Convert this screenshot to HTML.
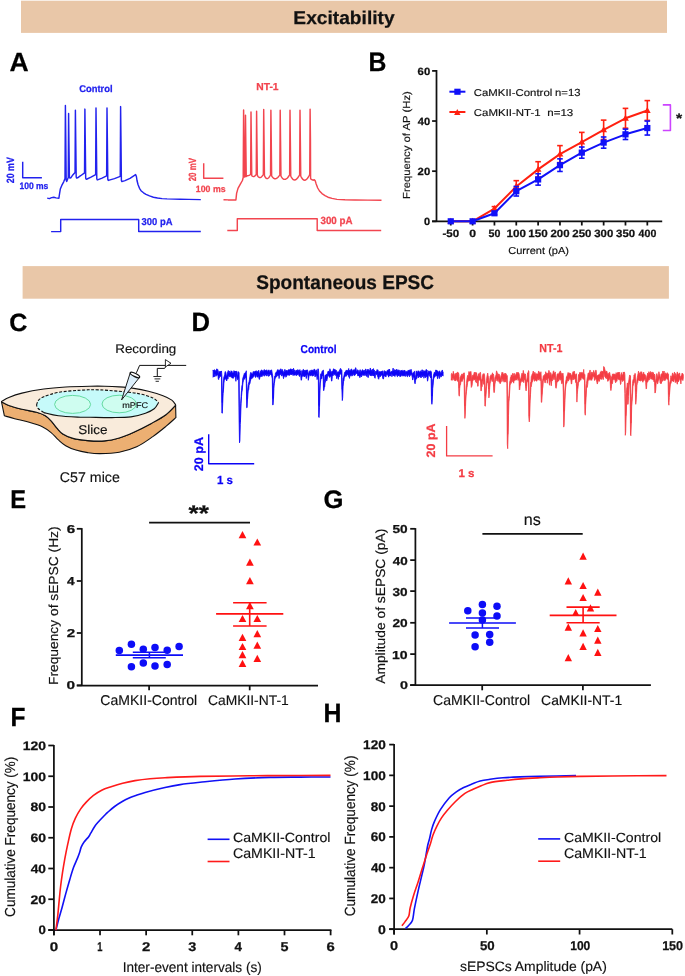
<!DOCTYPE html>
<html><head><meta charset="utf-8"><style>
html,body{margin:0;padding:0;background:#fff;}
body{width:685px;height:976px;overflow:hidden;}
svg{display:block;font-family:"Liberation Sans",sans-serif;text-rendering:geometricPrecision;will-change:transform;}
</style></head><body>
<svg width="685" height="976" viewBox="0 0 685 976">
<rect width="685" height="976" fill="#fff"/>
<rect x="21" y="0.7" width="646" height="32.2" fill="#E9C7A8"/>
<text x="293.35" y="23.6" font-size="18.48" fill="#111" font-weight="bold" textLength="101.24" lengthAdjust="spacingAndGlyphs" stroke="#111" stroke-width="0.25">Excitability</text>
<rect x="22.6" y="266.1" width="646.3" height="32.6" fill="#E9C7A8"/>
<text x="256.23" y="289.2" font-size="19.71" fill="#111" font-weight="bold" textLength="177.84" lengthAdjust="spacingAndGlyphs" stroke="#111" stroke-width="0.25">Spontaneous EPSC</text>
<text x="9.54" y="71.2" font-size="26.23" fill="#000" font-weight="bold" textLength="19.19" lengthAdjust="spacingAndGlyphs" stroke="#000" stroke-width="0.25">A</text>
<text x="368.39" y="70.7" font-size="26.81" fill="#000" font-weight="bold" textLength="17.88" lengthAdjust="spacingAndGlyphs" stroke="#000" stroke-width="0.25">B</text>
<text x="9.3" y="330.7" font-size="25" fill="#000" font-weight="bold" textLength="18.08" lengthAdjust="spacingAndGlyphs" stroke="#000" stroke-width="0.25">C</text>
<text x="191.43" y="331.2" font-size="26.38" fill="#000" font-weight="bold" textLength="18.55" lengthAdjust="spacingAndGlyphs" stroke="#000" stroke-width="0.25">D</text>
<text x="10.26" y="507.7" font-size="25.65" fill="#000" font-weight="bold" textLength="15.82" lengthAdjust="spacingAndGlyphs" stroke="#000" stroke-width="0.25">E</text>
<text x="323.57" y="508" font-size="25.29" fill="#000" font-weight="bold" textLength="19.94" lengthAdjust="spacingAndGlyphs" stroke="#000" stroke-width="0.25">G</text>
<text x="10.41" y="726" font-size="26.23" fill="#000" font-weight="bold" textLength="14.97" lengthAdjust="spacingAndGlyphs" stroke="#000" stroke-width="0.25">F</text>
<text x="323.58" y="721.7" font-size="26.38" fill="#000" font-weight="bold" textLength="17.99" lengthAdjust="spacingAndGlyphs" stroke="#000" stroke-width="0.25">H</text>
<text x="79.22" y="91.5" font-size="9.79" fill="#2222EE" font-weight="bold" textLength="33.33" lengthAdjust="spacingAndGlyphs" stroke="#2222EE" stroke-width="0.25">Control</text>
<text x="256.23" y="90" font-size="10.14" fill="#F2454F" font-weight="bold" textLength="22.35" lengthAdjust="spacingAndGlyphs" stroke="#F2454F" stroke-width="0.25">NT-1</text>
<polyline points="47.2,198.1 49.4,198.6 51.6,197.6 53.8,197.2 56,197.9 58.9,198.2 59.6,193.4 60.3,189.1 61.8,185.4 63.7,181.8 65,178.6 65.4,105.5 65.75,135.5 66.2,180.3 66.7,181.5 68.25,177.5 68.6,113.4 68.95,143.4 69.4,176.9 69.9,178.1 70.8,177.8 72.34,175.58 75.05,172.5 75.4,110.2 75.75,140.2 76.2,176.9 76.7,178.1 77.6,177.8 80.62,175.72 84.55,172.8 84.9,109.1 85.25,139.1 85.7,178.1 86.2,179.3 87.1,179 91.01,177.19 95.65,174.6 96,108 96.35,138 96.8,178.7 97.3,179.9 98.2,179.6 102.05,178.06 106.65,175.8 107,108 107.35,138 107.8,179.2 108.3,180.4 109.2,180.1 114.48,178.6 120.25,176.4 120.6,106.6 120.95,136.6 121.4,180.4 121.9,181.6 125,180.6 130,178.3 135.6,174.6 136.4,176.5 137,180.5 138,184.5 139.5,188.3 141,190.7 143.5,192.8 146,194.3 149.5,195.9 153.4,197.2 157.5,198 162.1,198.6 167,198.9 173.8,199.1 180,199.2 188.4,199.4 200.8,199.6" fill="none" stroke="#2222EE" stroke-width="1.45" stroke-linejoin="round" stroke-linecap="butt" />
<polyline points="51.1,231.6 60.7,231.6 60.7,219.5 138.7,219.5 138.7,231.4 200.8,231.4" fill="none" stroke="#2222EE" stroke-width="1.45" stroke-linejoin="round" stroke-linecap="butt" />
<text x="141.56" y="225.3" font-size="10" fill="#2222EE" font-weight="bold" textLength="30.91" lengthAdjust="spacingAndGlyphs" stroke="#2222EE" stroke-width="0.25">300 pA</text>
<polyline points="22.7,161.8 22.7,177.8 41.9,177.8" fill="none" stroke="#2222EE" stroke-width="1.45" stroke-linejoin="round" stroke-linecap="butt" />
<text x="0" y="0" font-size="10.57" fill="#2222EE" font-weight="bold" textLength="26.07" lengthAdjust="spacingAndGlyphs" transform="translate(14.3 183.21) rotate(-90)" stroke="#2222EE" stroke-width="0.25">20 mV</text>
<text x="19.39" y="189" font-size="9.29" fill="#2222EE" font-weight="bold" textLength="28.97" lengthAdjust="spacingAndGlyphs" stroke="#2222EE" stroke-width="0.25">100 ms</text>
<polyline points="223.5,199.8 228,199.9 232,199.9 235.9,200 236.6,193.4 238,188.4 240.2,184.4 242.4,180.5 243.2,177.5 243.6,109.9 243.95,139.9 244.35,176.8 244.8,177.1 245.15,176.5 245.5,115.3 245.85,145.3 246.25,176.5 246.51,176.26 246.87,176 247.31,175.77 247.75,175.63 248.19,175.6 248.63,175.54 249.07,175.4 249.51,175.17 249.9,174.9 250.25,174.6 250.52,174.34 250.65,174.2 251,112 251.35,142 251.75,175.6 252.02,175.87 252.38,176.16 252.83,176.42 253.28,176.56 253.73,176.6 254.18,176.49 254.63,176.23 255.08,175.81 255.49,175.3 255.84,174.74 256.12,174.26 256.25,174 256.6,111.2 256.95,141.2 257.35,175.5 257.71,176.06 258.19,176.67 258.79,177.21 259.39,177.52 259.99,177.6 260.59,177.45 261.19,177.11 261.79,176.57 262.33,175.9 262.81,175.17 263.17,174.54 263.35,174.2 263.7,109.5 264.05,139.5 264.45,175.6 264.82,176.4 265.3,177.27 265.91,178.05 266.52,178.49 267.13,178.6 267.74,178.43 268.35,178.02 268.96,177.38 269.51,176.6 270,175.75 270.37,175 270.55,174.6 270.9,110.2 271.25,140.2 271.65,175.9 272.14,176.67 272.8,177.51 273.62,178.27 274.44,178.69 275.26,178.8 276.08,178.62 276.9,178.2 277.72,177.52 278.46,176.7 279.11,175.8 279.6,175.02 279.85,174.6 280.2,110.2 280.55,140.2 280.95,176 281.47,176.9 282.17,177.89 283.04,178.78 283.91,179.28 284.78,179.39 285.65,179.19 286.52,178.71 287.39,177.94 288.17,177 288.87,175.97 289.39,175.08 289.65,174.6 290,110.2 290.35,140.2 290.75,176 291.28,177.06 292,178.22 292.89,179.27 293.78,179.85 294.67,179.99 295.56,179.76 296.45,179.21 297.34,178.33 298.14,177.25 298.85,176.07 299.38,175.05 299.65,174.5 300,110.2 300.35,140.2 300.75,176 301.29,177.11 302.01,178.33 302.91,179.43 303.81,180.05 304.71,180.19 305.61,179.95 306.51,179.35 307.41,178.4 308.22,177.25 308.94,175.99 309.48,174.89 309.75,174.3 310.1,109.2 310.45,139.2 310.6,178.5 311.2,179.3 313,180.2 314.3,179.8 315.2,180.8 316,183.4 317.7,188 319.5,191 322,193.6 325,195.6 328,197.2 332,198.4 337,199.4 345,199.8 355,200 368,200.1 381.5,200.2" fill="none" stroke="#F2454F" stroke-width="1.45" stroke-linejoin="round" stroke-linecap="butt" />
<polyline points="227.3,230.5 237.3,230.5 237.3,218.8 317.2,218.8 317.2,230.5 381.2,230.5" fill="none" stroke="#F2454F" stroke-width="1.45" stroke-linejoin="round" stroke-linecap="butt" />
<text x="320.46" y="224.4" font-size="10.43" fill="#F2454F" font-weight="bold" textLength="32.13" lengthAdjust="spacingAndGlyphs" stroke="#F2454F" stroke-width="0.25">300 pA</text>
<polyline points="203.7,163.2 203.7,178.3 223.4,178.3" fill="none" stroke="#F2454F" stroke-width="1.45" stroke-linejoin="round" stroke-linecap="butt" />
<text x="0" y="0" font-size="10.43" fill="#F2454F" font-weight="bold" textLength="23.33" lengthAdjust="spacingAndGlyphs" transform="translate(196.4 181.28) rotate(-90)" stroke="#F2454F" stroke-width="0.25">20 mV</text>
<text x="195.87" y="192" font-size="9.14" fill="#F2454F" font-weight="bold" textLength="29.69" lengthAdjust="spacingAndGlyphs" stroke="#F2454F" stroke-width="0.25">100 ms</text>
<line x1="436.5" y1="70" x2="436.5" y2="222" stroke="#111" stroke-width="1.75" />
<line x1="432.1" y1="221.3" x2="662.2" y2="221.3" stroke="#111" stroke-width="1.75" />
<line x1="432.1" y1="70.9" x2="436.5" y2="70.9" stroke="#111" stroke-width="1.75" />
<text x="417.6" y="74.9" font-size="10.43" fill="#111" font-weight="bold" textLength="12.57" lengthAdjust="spacingAndGlyphs" stroke="#111" stroke-width="0.25">60</text>
<line x1="432.1" y1="121.03" x2="436.5" y2="121.03" stroke="#111" stroke-width="1.75" />
<text x="417.83" y="125.03" font-size="10.43" fill="#111" font-weight="bold" textLength="12.34" lengthAdjust="spacingAndGlyphs" stroke="#111" stroke-width="0.25">40</text>
<line x1="432.1" y1="171.17" x2="436.5" y2="171.17" stroke="#111" stroke-width="1.75" />
<text x="417.6" y="175.17" font-size="10.43" fill="#111" font-weight="bold" textLength="12.57" lengthAdjust="spacingAndGlyphs" stroke="#111" stroke-width="0.25">20</text>
<line x1="432.1" y1="221.3" x2="436.5" y2="221.3" stroke="#111" stroke-width="1.75" />
<text x="424.06" y="225.3" font-size="10.43" fill="#111" font-weight="bold" textLength="6.09" lengthAdjust="spacingAndGlyphs" stroke="#111" stroke-width="0.25">0</text>
<line x1="450.76" y1="221.3" x2="450.76" y2="225.5" stroke="#111" stroke-width="1.75" />
<text x="442.4" y="237.1" font-size="10.57" fill="#111" font-weight="bold" textLength="16.73" lengthAdjust="spacingAndGlyphs" stroke="#111" stroke-width="0.25">-50</text>
<line x1="472.6" y1="221.3" x2="472.6" y2="225.5" stroke="#111" stroke-width="1.75" />
<text x="469.21" y="237.1" font-size="10.57" fill="#111" font-weight="bold" textLength="6.79" lengthAdjust="spacingAndGlyphs" stroke="#111" stroke-width="0.25">0</text>
<line x1="494.44" y1="221.3" x2="494.44" y2="225.5" stroke="#111" stroke-width="1.75" />
<text x="488.57" y="237.1" font-size="10.57" fill="#111" font-weight="bold" textLength="11.87" lengthAdjust="spacingAndGlyphs" stroke="#111" stroke-width="0.25">50</text>
<line x1="516.28" y1="221.3" x2="516.28" y2="225.5" stroke="#111" stroke-width="1.75" />
<text x="506.48" y="237.1" font-size="10.57" fill="#111" font-weight="bold" textLength="19.4" lengthAdjust="spacingAndGlyphs" stroke="#111" stroke-width="0.25">100</text>
<line x1="538.12" y1="221.3" x2="538.12" y2="225.5" stroke="#111" stroke-width="1.75" />
<text x="528.32" y="237.1" font-size="10.57" fill="#111" font-weight="bold" textLength="19.4" lengthAdjust="spacingAndGlyphs" stroke="#111" stroke-width="0.25">150</text>
<line x1="559.96" y1="221.3" x2="559.96" y2="225.5" stroke="#111" stroke-width="1.75" />
<text x="550.46" y="237.1" font-size="10.57" fill="#111" font-weight="bold" textLength="19.1" lengthAdjust="spacingAndGlyphs" stroke="#111" stroke-width="0.25">200</text>
<line x1="581.8" y1="221.3" x2="581.8" y2="225.5" stroke="#111" stroke-width="1.75" />
<text x="572.3" y="237.1" font-size="10.57" fill="#111" font-weight="bold" textLength="19.1" lengthAdjust="spacingAndGlyphs" stroke="#111" stroke-width="0.25">250</text>
<line x1="603.64" y1="221.3" x2="603.64" y2="225.5" stroke="#111" stroke-width="1.75" />
<text x="594.26" y="237.1" font-size="10.57" fill="#111" font-weight="bold" textLength="18.98" lengthAdjust="spacingAndGlyphs" stroke="#111" stroke-width="0.25">300</text>
<line x1="625.48" y1="221.3" x2="625.48" y2="225.5" stroke="#111" stroke-width="1.75" />
<text x="616.1" y="237.1" font-size="10.57" fill="#111" font-weight="bold" textLength="18.98" lengthAdjust="spacingAndGlyphs" stroke="#111" stroke-width="0.25">350</text>
<line x1="647.32" y1="221.3" x2="647.32" y2="225.5" stroke="#111" stroke-width="1.75" />
<text x="638.61" y="237.1" font-size="10.57" fill="#111" font-weight="bold" textLength="17.72" lengthAdjust="spacingAndGlyphs" stroke="#111" stroke-width="0.25">400</text>
<text x="0" y="0" font-size="10.21" fill="#111" font-weight="normal" textLength="107.9" lengthAdjust="spacingAndGlyphs" transform="translate(410.4 199) rotate(-90)" stroke="#111" stroke-width="0.15">Frequency of AP (Hz)</text>
<text x="508.25" y="254.1" font-size="10.07" fill="#111" font-weight="normal" textLength="60.73" lengthAdjust="spacingAndGlyphs" stroke="#111" stroke-width="0.15">Current (pA)</text>
<polyline points="450.76,221.3 472.6,221.3 494.44,208.52 516.28,186.46 538.12,169.41 559.96,154.12 581.8,142.09 603.64,129.81 625.48,118.27 647.32,110.5" fill="none" stroke="#FF2010" stroke-width="2" stroke-linejoin="round" stroke-linecap="butt" />
<line x1="494.44" y1="206.62" x2="494.44" y2="210.42" stroke="#FF2010" stroke-width="1.6" />
<line x1="491.64" y1="206.62" x2="497.24" y2="206.62" stroke="#FF2010" stroke-width="1.6" />
<line x1="491.64" y1="210.42" x2="497.24" y2="210.42" stroke="#FF2010" stroke-width="1.6" />
<line x1="516.28" y1="180.66" x2="516.28" y2="192.26" stroke="#FF2010" stroke-width="1.6" />
<line x1="513.48" y1="180.66" x2="519.08" y2="180.66" stroke="#FF2010" stroke-width="1.6" />
<line x1="513.48" y1="192.26" x2="519.08" y2="192.26" stroke="#FF2010" stroke-width="1.6" />
<line x1="538.12" y1="161.71" x2="538.12" y2="177.11" stroke="#FF2010" stroke-width="1.6" />
<line x1="535.32" y1="161.71" x2="540.92" y2="161.71" stroke="#FF2010" stroke-width="1.6" />
<line x1="535.32" y1="177.11" x2="540.92" y2="177.11" stroke="#FF2010" stroke-width="1.6" />
<line x1="559.96" y1="145.62" x2="559.96" y2="162.62" stroke="#FF2010" stroke-width="1.6" />
<line x1="557.16" y1="145.62" x2="562.76" y2="145.62" stroke="#FF2010" stroke-width="1.6" />
<line x1="557.16" y1="162.62" x2="562.76" y2="162.62" stroke="#FF2010" stroke-width="1.6" />
<line x1="581.8" y1="132.39" x2="581.8" y2="151.79" stroke="#FF2010" stroke-width="1.6" />
<line x1="579" y1="132.39" x2="584.6" y2="132.39" stroke="#FF2010" stroke-width="1.6" />
<line x1="579" y1="151.79" x2="584.6" y2="151.79" stroke="#FF2010" stroke-width="1.6" />
<line x1="603.64" y1="120.11" x2="603.64" y2="139.51" stroke="#FF2010" stroke-width="1.6" />
<line x1="600.84" y1="120.11" x2="606.44" y2="120.11" stroke="#FF2010" stroke-width="1.6" />
<line x1="600.84" y1="139.51" x2="606.44" y2="139.51" stroke="#FF2010" stroke-width="1.6" />
<line x1="625.48" y1="108.37" x2="625.48" y2="128.17" stroke="#FF2010" stroke-width="1.6" />
<line x1="622.68" y1="108.37" x2="628.28" y2="108.37" stroke="#FF2010" stroke-width="1.6" />
<line x1="622.68" y1="128.17" x2="628.28" y2="128.17" stroke="#FF2010" stroke-width="1.6" />
<line x1="647.32" y1="100.6" x2="647.32" y2="120.4" stroke="#FF2010" stroke-width="1.6" />
<line x1="644.52" y1="100.6" x2="650.12" y2="100.6" stroke="#FF2010" stroke-width="1.6" />
<line x1="644.52" y1="120.4" x2="650.12" y2="120.4" stroke="#FF2010" stroke-width="1.6" />
<polygon points="450.76,217.7 454.16,223.7 447.36,223.7" fill="#FF2010"/>
<polygon points="472.6,217.7 476,223.7 469.2,223.7" fill="#FF2010"/>
<polygon points="494.44,204.92 497.84,210.92 491.04,210.92" fill="#FF2010"/>
<polygon points="516.28,182.86 519.68,188.86 512.88,188.86" fill="#FF2010"/>
<polygon points="538.12,165.81 541.52,171.81 534.72,171.81" fill="#FF2010"/>
<polygon points="559.96,150.52 563.36,156.52 556.56,156.52" fill="#FF2010"/>
<polygon points="581.8,138.49 585.2,144.49 578.4,144.49" fill="#FF2010"/>
<polygon points="603.64,126.21 607.04,132.21 600.24,132.21" fill="#FF2010"/>
<polygon points="625.48,114.67 628.88,120.67 622.08,120.67" fill="#FF2010"/>
<polygon points="647.32,106.9 650.72,112.9 643.92,112.9" fill="#FF2010"/>
<polyline points="450.76,221.3 472.6,221.3 494.44,213.28 516.28,191.22 538.12,179.44 559.96,165.15 581.8,152.62 603.64,142.59 625.48,134.32 647.32,128.05" fill="none" stroke="#1010F8" stroke-width="2" stroke-linejoin="round" stroke-linecap="butt" />
<line x1="494.44" y1="211.78" x2="494.44" y2="214.78" stroke="#1010F8" stroke-width="1.6" />
<line x1="491.64" y1="211.78" x2="497.24" y2="211.78" stroke="#1010F8" stroke-width="1.6" />
<line x1="491.64" y1="214.78" x2="497.24" y2="214.78" stroke="#1010F8" stroke-width="1.6" />
<line x1="516.28" y1="186.42" x2="516.28" y2="196.02" stroke="#1010F8" stroke-width="1.6" />
<line x1="513.48" y1="186.42" x2="519.08" y2="186.42" stroke="#1010F8" stroke-width="1.6" />
<line x1="513.48" y1="196.02" x2="519.08" y2="196.02" stroke="#1010F8" stroke-width="1.6" />
<line x1="538.12" y1="173.74" x2="538.12" y2="185.14" stroke="#1010F8" stroke-width="1.6" />
<line x1="535.32" y1="173.74" x2="540.92" y2="173.74" stroke="#1010F8" stroke-width="1.6" />
<line x1="535.32" y1="185.14" x2="540.92" y2="185.14" stroke="#1010F8" stroke-width="1.6" />
<line x1="559.96" y1="158.85" x2="559.96" y2="171.45" stroke="#1010F8" stroke-width="1.6" />
<line x1="557.16" y1="158.85" x2="562.76" y2="158.85" stroke="#1010F8" stroke-width="1.6" />
<line x1="557.16" y1="171.45" x2="562.76" y2="171.45" stroke="#1010F8" stroke-width="1.6" />
<line x1="581.8" y1="147.02" x2="581.8" y2="158.22" stroke="#1010F8" stroke-width="1.6" />
<line x1="579" y1="147.02" x2="584.6" y2="147.02" stroke="#1010F8" stroke-width="1.6" />
<line x1="579" y1="158.22" x2="584.6" y2="158.22" stroke="#1010F8" stroke-width="1.6" />
<line x1="603.64" y1="136.99" x2="603.64" y2="148.19" stroke="#1010F8" stroke-width="1.6" />
<line x1="600.84" y1="136.99" x2="606.44" y2="136.99" stroke="#1010F8" stroke-width="1.6" />
<line x1="600.84" y1="148.19" x2="606.44" y2="148.19" stroke="#1010F8" stroke-width="1.6" />
<line x1="625.48" y1="129.12" x2="625.48" y2="139.52" stroke="#1010F8" stroke-width="1.6" />
<line x1="622.68" y1="129.12" x2="628.28" y2="129.12" stroke="#1010F8" stroke-width="1.6" />
<line x1="622.68" y1="139.52" x2="628.28" y2="139.52" stroke="#1010F8" stroke-width="1.6" />
<line x1="647.32" y1="121.05" x2="647.32" y2="135.05" stroke="#1010F8" stroke-width="1.6" />
<line x1="644.52" y1="121.05" x2="650.12" y2="121.05" stroke="#1010F8" stroke-width="1.6" />
<line x1="644.52" y1="135.05" x2="650.12" y2="135.05" stroke="#1010F8" stroke-width="1.6" />
<rect x="447.66" y="218.2" width="6.2" height="6.2" fill="#1010F8"/>
<rect x="469.5" y="218.2" width="6.2" height="6.2" fill="#1010F8"/>
<rect x="491.34" y="210.18" width="6.2" height="6.2" fill="#1010F8"/>
<rect x="513.18" y="188.12" width="6.2" height="6.2" fill="#1010F8"/>
<rect x="535.02" y="176.34" width="6.2" height="6.2" fill="#1010F8"/>
<rect x="556.86" y="162.05" width="6.2" height="6.2" fill="#1010F8"/>
<rect x="578.7" y="149.52" width="6.2" height="6.2" fill="#1010F8"/>
<rect x="600.54" y="139.49" width="6.2" height="6.2" fill="#1010F8"/>
<rect x="622.38" y="131.22" width="6.2" height="6.2" fill="#1010F8"/>
<rect x="644.22" y="124.95" width="6.2" height="6.2" fill="#1010F8"/>
<line x1="449.4" y1="91.7" x2="465.4" y2="91.7" stroke="#1010F8" stroke-width="2" />
<rect x="454.3" y="88.7" width="6.3" height="6.1" fill="#1010F8"/>
<line x1="449.4" y1="112" x2="465.4" y2="112" stroke="#FF2010" stroke-width="2" />
<polygon points="457.3,109 460.5,115 454.1,115" fill="#FF2010"/>
<text x="473.83" y="95.7" font-size="9.93" fill="#111" font-weight="normal" textLength="78.42" lengthAdjust="spacingAndGlyphs" stroke="#111" stroke-width="0.15">CaMKII-Control</text>
<text x="555.07" y="95.7" font-size="10.29" fill="#111" font-weight="normal" textLength="25.41" lengthAdjust="spacingAndGlyphs" stroke="#111" stroke-width="0.15">n=13</text>
<text x="473.83" y="115.6" font-size="10" fill="#111" font-weight="normal" textLength="66.78" lengthAdjust="spacingAndGlyphs" stroke="#111" stroke-width="0.15">CaMKII-NT-1</text>
<text x="547.25" y="115.6" font-size="10" fill="#111" font-weight="normal" textLength="26.04" lengthAdjust="spacingAndGlyphs" stroke="#111" stroke-width="0.15">n=13</text>
<polyline points="662.8,104.9 670.4,104.9 670.4,130.5 662.8,130.5" fill="none" stroke="#CC44FF" stroke-width="1.6" stroke-linejoin="round" stroke-linecap="butt" />
<text x="675.92" y="123.41" font-size="13.78" fill="#111" font-weight="bold" textLength="6.14" lengthAdjust="spacingAndGlyphs" stroke="#111" stroke-width="0.25">*</text>
<path d="M1.5,401.9 C2.72,402.5 5.4,404.28 8.8,405.5 C12.2,406.72 17.28,408.07 21.9,409.2 C26.52,410.33 32.6,411.2 36.5,412.3 C40.4,413.4 42.87,414.37 45.3,415.8 C47.73,417.23 49.17,418.83 51.1,420.9 C53.03,422.97 54.95,426.02 56.9,428.2 C58.85,430.38 60.12,432.3 62.8,434 C65.48,435.7 68.87,437.3 73,438.4 C77.13,439.5 82.33,440.18 87.6,440.6 C92.87,441.02 99.33,441.33 104.6,440.9 C109.87,440.47 114.33,439.45 119.2,438 C124.07,436.55 128.45,434.63 133.8,432.2 C139.15,429.77 145.95,426.32 151.3,423.4 C156.65,420.48 161.85,417.73 165.9,414.7 C169.95,411.67 173.98,406.78 175.6,405.2 L175.9,417.6 C174.23,419.07 169.75,423.23 165.9,426.4 C162.05,429.57 157.67,433.2 152.8,436.6 C147.93,440 142.3,444.2 136.7,446.8 C131.1,449.4 125.32,451.07 119.2,452.2 C113.08,453.33 105.27,453.53 100,453.6 C94.73,453.67 91.62,453.18 87.6,452.6 C83.58,452.02 79.55,451.25 75.9,450.1 C72.25,448.95 68.62,447.4 65.7,445.7 C62.78,444 60.83,442.08 58.4,439.9 C55.97,437.72 53.78,434.8 51.1,432.6 C48.42,430.4 45.95,428.42 42.3,426.7 C38.65,424.98 33.82,423.63 29.2,422.3 C24.58,420.97 18.73,419.78 14.6,418.7 C10.47,417.62 6.1,416.28 4.4,415.8 L1.5,401.9 Z" fill="#ECAF72" stroke="#111" stroke-width="1.1" stroke-linejoin="round"/>
<path d="M1.5,401.6 C2.72,400.92 5.4,398.92 8.8,397.5 C12.2,396.08 16.07,394.52 21.9,393.1 C27.73,391.68 36.5,390.02 43.8,389 C51.1,387.98 58,387.47 65.7,387 C73.4,386.53 83.52,386.33 90,386.2 C96.48,386.07 99.73,386.08 104.6,386.2 C109.47,386.32 114.33,386.53 119.2,386.9 C124.07,387.27 128.93,387.67 133.8,388.4 C138.67,389.13 143.53,390.08 148.4,391.3 C153.27,392.52 159.1,394.23 163,395.7 C166.9,397.17 169.7,398.58 171.8,400.1 C173.9,401.62 174.97,404.02 175.6,404.8 L175.6,405.2 C173.98,406.78 169.95,411.67 165.9,414.7 C161.85,417.73 156.65,420.48 151.3,423.4 C145.95,426.32 139.15,429.77 133.8,432.2 C128.45,434.63 124.07,436.55 119.2,438 C114.33,439.45 109.87,440.47 104.6,440.9 C99.33,441.33 92.87,441.02 87.6,440.6 C82.33,440.18 77.13,439.5 73,438.4 C68.87,437.3 65.48,435.7 62.8,434 C60.12,432.3 58.85,430.38 56.9,428.2 C54.95,426.02 53.03,422.97 51.1,420.9 C49.17,418.83 47.73,417.23 45.3,415.8 C42.87,414.37 40.4,413.4 36.5,412.3 C32.6,411.2 26.52,410.33 21.9,409.2 C17.28,408.07 12.2,406.72 8.8,405.5 C5.4,404.28 2.72,402.5 1.5,401.9 Z" fill="#F9EBDB" stroke="#111" stroke-width="1.1" stroke-linejoin="round"/>
<path d="M36.5,405 C36.85,404.2 37.38,401.57 38.6,400.2 C39.82,398.83 40.5,398.1 43.8,396.8 C47.1,395.5 52.32,393.5 58.4,392.4 C64.48,391.3 73.37,390.62 80.3,390.2 C87.23,389.78 92.3,389.6 100,389.9 C107.7,390.2 119.65,391.28 126.5,392 C133.35,392.72 136.72,393.22 141.1,394.2 C145.48,395.18 149.88,396.52 152.8,397.9 C155.72,399.28 157.63,401.73 158.6,402.5 C157.87,403.55 156.38,407.02 154.2,408.8 C152.02,410.58 149.38,411.85 145.5,413.2 C141.62,414.55 136.5,416.17 130.9,416.9 C125.3,417.63 118.72,417.53 111.9,417.6 C105.08,417.67 95.27,417.37 90,417.3 C84.73,417.23 85.57,417.45 80.3,417.2 C75.03,416.95 64.48,416.57 58.4,415.8 C52.32,415.03 47.17,413.82 43.8,412.6 C40.43,411.38 39.42,409.77 38.2,408.5 C36.98,407.23 36.78,405.58 36.5,405Z" fill="#C6FAFA" stroke="none"/>
<path d="M36.5,405 C36.85,404.2 37.38,401.57 38.6,400.2 C39.82,398.83 40.5,398.1 43.8,396.8 C47.1,395.5 52.32,393.5 58.4,392.4 C64.48,391.3 73.37,390.62 80.3,390.2 C87.23,389.78 92.3,389.6 100,389.9 C107.7,390.2 119.65,391.28 126.5,392 C133.35,392.72 136.72,393.22 141.1,394.2 C145.48,395.18 149.88,396.52 152.8,397.9 C155.72,399.28 157.63,401.73 158.6,402.5" fill="none" stroke="#111" stroke-width="1.1" stroke-dasharray="3,1.6"/>
<path d="M158.6,402.5 C157.87,403.55 156.38,407.02 154.2,408.8 C152.02,410.58 149.38,411.85 145.5,413.2 C141.62,414.55 136.5,416.17 130.9,416.9 C125.3,417.63 118.72,417.53 111.9,417.6 C105.08,417.67 95.27,417.37 90,417.3 C84.73,417.23 85.57,417.45 80.3,417.2 C75.03,416.95 64.48,416.57 58.4,415.8 C52.32,415.03 46.23,413.13 43.8,412.6" fill="none" stroke="#111" stroke-width="1.1"/>
<path d="M43.8,412.6 C42.87,411.92 39.42,409.77 38.2,408.5 C36.98,407.23 36.78,405.58 36.5,405" fill="none" stroke="#111" stroke-width="1.1" stroke-dasharray="3,1.6"/>
<ellipse cx="72.6" cy="404.4" rx="18" ry="9" fill="#CFFDF0" stroke="#5ED89C" stroke-width="0.95"/>
<ellipse cx="119.2" cy="404" rx="17.2" ry="8.8" fill="#CFFDF0" stroke="#5ED89C" stroke-width="0.95"/>
<text x="122.21" y="408.1" font-size="8.29" fill="#111" font-weight="normal" textLength="25.84" lengthAdjust="spacingAndGlyphs" stroke="#111" stroke-width="0.15">mPFC</text>
<text x="78.19" y="434.1" font-size="12.69" fill="#111" font-weight="normal" textLength="29.25" lengthAdjust="spacingAndGlyphs" stroke="#111" stroke-width="0.15">Slice</text>
<text x="115.23" y="353.4" font-size="12.55" fill="#111" font-weight="normal" textLength="61.09" lengthAdjust="spacingAndGlyphs" stroke="#111" stroke-width="0.15">Recording</text>
<text x="59.79" y="482.4" font-size="14.07" fill="#111" font-weight="normal" textLength="60.13" lengthAdjust="spacingAndGlyphs" stroke="#111" stroke-width="0.15">C57 mice</text>
<path d="M121.6,399.9 L130.3,372.6 L139.6,377.3 Z" fill="#DCEFFC" stroke="#111" stroke-width="0.95" stroke-linejoin="round"/>
<ellipse cx="134.95" cy="374.95" rx="5.2" ry="1.6" transform="rotate(27 134.95 374.95)" fill="#fff" stroke="#111" stroke-width="1.3"/>
<polyline points="136.4,372.8 139.6,365.4 186.2,365.4" fill="none" stroke="#111" stroke-width="1" stroke-linejoin="round" stroke-linecap="butt" />
<path d="M165.4,359.6 L171,363.3 L165.4,366.9 Z" fill="#fff" stroke="#111" stroke-width="0.9" stroke-linejoin="miter"/>
<polyline points="165.6,366.8 164.6,368.4 157.3,368.4 157.3,376" fill="none" stroke="#111" stroke-width="1" stroke-linejoin="round" stroke-linecap="butt" />
<line x1="153.4" y1="376.5" x2="161.4" y2="376.5" stroke="#111" stroke-width="0.9" />
<line x1="154.5" y1="378.9" x2="160.3" y2="378.9" stroke="#111" stroke-width="0.9" />
<line x1="155.6" y1="381.3" x2="158.9" y2="381.3" stroke="#111" stroke-width="0.9" />
<polygon points="213.1,369.93 213.5,371.22 213.9,370.21 214.3,369.83 214.7,369.83 215.1,371.85 215.5,370.61 215.9,370.85 216.3,371.01 216.7,368.79 217.1,372.29 217.5,369.38 217.9,369.53 218.3,372.18 218.7,375.4 219.1,371.28 219.5,372.23 219.9,371.6 220.3,371.6 220.7,371.36 221.1,372.13 221.5,370.94 221.9,376.77 222.3,402.53 222.7,393.43 223.1,385.72 223.5,379.94 223.9,376.92 224.3,376.1 224.7,374.46 225.1,371.63 225.5,371.63 225.9,373.1 226.3,375.56 226.7,376.18 227.1,374.47 227.5,372.31 227.9,371.6 228.3,370.49 228.7,372.6 229.1,372.4 229.5,371.19 229.9,372.89 230.3,372.37 230.7,372.43 231.1,370.72 231.5,371.74 231.9,371.01 232.3,372.4 232.7,372.7 233.1,372.63 233.5,372.77 233.9,370.69 234.3,371.1 234.7,371.1 235.1,372.26 235.5,371.11 235.9,374.01 236.3,371.23 236.7,371.23 237.1,372.06 237.5,376.11 237.9,376.19 238.3,371.56 238.7,373.31 239.1,372.63 239.5,419.99 239.9,422.03 240.3,414.95 240.7,403.18 241.1,396.47 241.5,390.41 241.9,385.69 242.3,384.95 242.7,378.63 243.1,377.33 243.5,376.18 243.9,375 244.3,373.51 244.7,373.97 245.1,372.62 245.5,372.66 245.9,372.3 246.3,370.75 246.7,383.2 247.1,399.66 247.5,391.51 247.9,387.28 248.3,384.46 248.7,382.98 249.1,381.51 249.5,379.29 249.9,376.43 250.3,374.06 250.7,372.46 251.1,372.46 251.5,373.95 251.9,373.46 252.3,373.88 252.7,373.68 253.1,371.61 253.5,371.61 253.9,372.87 254.3,371.82 254.7,371.69 255.1,371.05 255.5,371.72 255.9,370.81 256.3,370.81 256.7,372.96 257.1,371.72 257.5,371.36 257.9,371.86 258.3,371.94 258.7,370.21 259.1,372.71 259.5,374.5 259.9,373.15 260.3,371.53 260.7,370.73 261.1,372.32 261.5,369.91 261.9,369.91 262.3,371.56 262.7,370.67 263.1,371.7 263.5,370.97 263.9,370.14 264.3,369.5 264.7,370.24 265.1,370.82 265.5,370.68 265.9,370.11 266.3,370.57 266.7,369.72 267.1,371.17 267.5,371.54 267.9,370.52 268.3,370.53 268.7,369.93 269.1,369.93 269.5,372.61 269.9,371.57 270.3,370.42 270.7,370.42 271.1,371.66 271.5,369.78 271.9,371.19 272.3,374.01 272.7,375.74 273.1,398.73 273.5,385.61 273.9,382.23 274.3,378.15 274.7,376.12 275.1,375.72 275.5,372.9 275.9,372.9 276.3,371.88 276.7,373.11 277.1,370.37 277.5,370.54 277.9,369.42 278.3,371.15 278.7,370.3 279.1,370.72 279.5,369.77 279.9,370.58 280.3,371.3 280.7,368.75 281.1,370.7 281.5,370.55 281.9,369.35 282.3,369.48 282.7,371.6 283.1,370.79 283.5,373.54 283.9,372.24 284.3,371.8 284.7,369.55 285.1,369.55 285.5,371.4 285.9,370.78 286.3,370.76 286.7,370.19 287.1,371.87 287.5,370.64 287.9,370.87 288.3,369.69 288.7,369.73 289.1,369.93 289.5,370.08 289.9,369.41 290.3,370.06 290.7,368.66 291.1,370.16 291.5,369.4 291.9,369.69 292.3,369.06 292.7,370.46 293.1,370.75 293.5,368.27 293.9,370.29 294.3,369.87 294.7,371.3 295.1,371.63 295.5,370.66 295.9,370.65 296.3,370.49 296.7,369.96 297.1,370.91 297.5,369.69 297.9,369.97 298.3,369.97 298.7,370.35 299.1,372.18 299.5,370.08 299.9,369.6 300.3,371.88 300.7,370.88 301.1,374.14 301.5,375.26 301.9,370.53 302.3,372.43 302.7,370.9 303.1,369.4 303.5,369.4 303.9,370.42 304.3,370 304.7,371.55 305.1,370.72 305.5,370.72 305.9,369.96 306.3,369.96 306.7,371.13 307.1,369.92 307.5,369.92 307.9,372.36 308.3,373.99 308.7,373.36 309.1,371.78 309.5,370.73 309.9,371.45 310.3,371.7 310.7,370.28 311.1,370.06 311.5,370.27 311.9,370.4 312.3,371.22 312.7,370.07 313.1,370.46 313.5,371.15 313.9,369.35 314.3,369.35 314.7,369.27 315.1,370.24 315.5,370.78 315.9,371.21 316.3,370.32 316.7,369.72 317.1,373.47 317.5,372.92 317.9,368.83 318.3,368.9 318.7,372.32 319.1,405.53 319.5,390.56 319.9,382.99 320.3,377.51 320.7,373.96 321.1,373.57 321.5,374.87 321.9,371.83 322.3,371 322.7,370.59 323.1,370.2 323.5,370.2 323.9,387.26 324.3,382.51 324.7,378.23 325.1,375.08 325.5,375.08 325.9,375.82 326.3,374.18 326.7,374.18 327.1,375.98 327.5,373.4 327.9,371.59 328.3,371.1 328.7,371.32 329.1,371.79 329.5,371.02 329.9,368.74 330.3,369.89 330.7,371.54 331.1,371.54 331.5,373.97 331.9,371.18 332.3,371.24 332.7,371.6 333.1,370.25 333.5,368.86 333.9,368.86 334.3,371.51 334.7,369.26 335.1,370.43 335.5,369.74 335.9,371.3 336.3,370.33 336.7,374.29 337.1,372.86 337.5,371.85 337.9,371.85 338.3,371.73 338.7,371.95 339.1,372.29 339.5,369.98 339.9,370.16 340.3,368.53 340.7,368.53 341.1,371.87 341.5,369.65 341.9,370.63 342.3,389.46 342.7,384.86 343.1,378.24 343.5,377.41 343.9,376.09 344.3,374 344.7,372.16 345.1,371.65 345.5,371.65 345.9,370.63 346.3,370.22 346.7,371.87 347.1,369.91 347.5,371.41 347.9,370.83 348.3,370.74 348.7,368.45 349.1,370.81 349.5,370.06 349.9,370.64 350.3,370.64 350.7,369.72 351.1,370.23 351.5,368.84 351.9,370.07 352.3,370.72 352.7,371.57 353.1,369.92 353.5,370.79 353.9,369.57 354.3,369.62 354.7,370.18 355.1,369.74 355.5,367.81 355.9,367.81 356.3,370.35 356.7,371.51 357.1,370.46 357.5,370.07 357.9,369.73 358.3,370.35 358.7,372.48 359.1,371.83 359.5,372.04 359.9,369.8 360.3,369.8 360.7,372.44 361.1,372.11 361.5,370.96 361.9,370.91 362.3,369.7 362.7,369.7 363.1,371.2 363.5,370.68 363.9,371.03 364.3,370.2 364.7,371.8 365.1,371.21 365.5,368.88 365.9,371.54 366.3,370.87 366.7,371.79 367.1,369.08 367.5,370.12 367.9,370.54 368.3,371.01 368.7,369.37 369.1,370.43 369.5,370.46 369.9,370.76 370.3,367.98 370.7,370.81 371.1,369.99 371.5,371.56 371.9,370.34 372.3,369.04 372.7,371.21 373.1,371.12 373.5,368.59 373.9,370.93 374.3,370.14 374.7,370.95 375.1,373.95 375.5,371.82 375.9,371.02 376.3,371.79 376.7,370.65 377.1,369.51 377.5,370.8 377.9,369.86 378.3,371.3 378.7,373.9 379.1,371.34 379.5,372.85 379.9,371.6 380.3,372.04 380.7,371.6 381.1,371.48 381.5,371.56 381.9,371.11 382.3,371.11 382.7,370.84 383.1,374.06 383.5,375.85 383.9,371.21 384.3,370.52 384.7,371.61 385.1,371.8 385.5,371.43 385.9,371.32 386.3,372.31 386.7,371.79 387.1,370.77 387.5,370.13 387.9,370.26 388.3,370.76 388.7,369.44 389.1,371.46 389.5,369.03 389.9,371.31 390.3,372.54 390.7,372.07 391.1,371.39 391.5,371.72 391.9,371.09 392.3,371.25 392.7,370.26 393.1,368.07 393.5,370.54 393.9,370.67 394.3,372.14 394.7,369.5 395.1,371.92 395.5,370.09 395.9,370.33 396.3,371.87 396.7,369.12 397.1,370.62 397.5,370.13 397.9,370.21 398.3,370.57 398.7,369.76 399.1,372.1 399.5,372.76 399.9,370.12 400.3,372.52 400.7,371.04 401.1,371.26 401.5,370.21 401.9,371.03 402.3,371.06 402.7,370.38 403.1,370.75 403.5,370.75 403.9,372.02 404.3,369.99 404.7,372.23 405.1,370.63 405.5,373.49 405.9,371.82 406.3,371.43 406.7,371.53 407.1,371.5 407.5,371.25 407.9,370.75 408.3,369.97 408.7,370.44 409.1,370.18 409.5,370.56 409.9,369.77 410.3,370.55 410.7,369.93 411.1,369.29 411.5,371 411.9,372.41 412.3,373.08 412.7,375.46 413.1,372.87 413.5,372.52 413.9,373.03 414.3,371.28 414.7,371.25 415.1,378.17 415.5,376.74 415.9,374.48 416.3,370.86 416.7,371.92 417.1,371.92 417.5,373.65 417.9,370.85 418.3,371.01 418.7,370.88 419.1,371.75 419.5,372.61 419.9,371.74 420.3,370.75 420.7,371.54 421.1,371.9 421.5,371.62 421.9,369.85 422.3,369.85 422.7,371.74 423.1,372.05 423.5,370.6 423.9,371.13 424.3,370.78 424.7,371.24 425.1,371.24 425.5,370.7 425.9,370.24 426.3,369.33 426.7,371.08 427.1,370.14 427.5,374.5 427.9,373.37 428.3,371.84 428.7,370.82 429.1,371.52 429.5,371.41 429.9,370.97 430.3,370.8 430.7,371.65 431.1,371.32 431.5,373.1 431.9,396.14 432.3,388.39 432.7,379.66 433.1,378.79 433.5,374.91 433.9,373.68 434.3,372.21 434.7,372.21 435.1,372.64 435.5,371.43 435.9,369.85 436.3,372.5 436.7,370.02 437.1,371.75 437.5,370.93 437.9,371.12 438.3,372.18 438.7,372.87 439.1,371.46 439.5,370.86 439.9,371.15 440.3,373.4 440.7,372.59 441.1,372.89 441.5,371.23 441.9,371.27 442.3,369.96 442.7,371.62 443.1,371.83 443.1,376.11 442.7,375.65 442.3,375.27 441.9,375.48 441.5,376.17 441.1,377.1 440.7,375.82 440.3,376.07 439.9,376.9 439.5,378.56 439.1,375.28 438.7,375.95 438.3,375.7 437.9,378.69 437.5,378.69 437.1,375.93 436.7,375.93 436.3,374.96 435.9,375.55 435.5,376.01 435.1,376.62 434.7,377.15 434.3,377.38 433.9,377.81 433.5,379.93 433.1,385.46 432.7,388.57 432.3,400.71 431.9,404.3 431.5,401.19 431.1,376.06 430.7,377.99 430.3,374.84 429.9,376.53 429.5,374.8 429.1,374.07 428.7,375.59 428.3,376.3 427.9,379.81 427.5,381.21 427.1,377 426.7,375.4 426.3,376.67 425.9,375.75 425.5,377.69 425.1,375.65 424.7,375.92 424.3,376.6 423.9,378.26 423.5,374.63 423.1,375.64 422.7,375.84 422.3,376.9 421.9,375.43 421.5,375.9 421.1,377.99 420.7,376.98 420.3,376.79 419.9,376.8 419.5,375.31 419.1,377.11 418.7,374.67 418.3,377.99 417.9,376.09 417.5,375.78 417.1,376.44 416.7,378.79 416.3,378.41 415.9,379.67 415.5,380.79 415.1,383.8 414.7,382.85 414.3,377.25 413.9,377.25 413.5,376.37 413.1,378.71 412.7,380.07 412.3,377.56 411.9,375.62 411.5,374.63 411.1,374.5 410.7,375.42 410.3,374.75 409.9,374.72 409.5,376.83 409.1,374.85 408.7,375.31 408.3,374.76 407.9,375.58 407.5,376.77 407.1,376.6 406.7,375.8 406.3,374.25 405.9,374.42 405.5,376.42 405.1,375.57 404.7,375.34 404.3,376.19 403.9,374.75 403.5,376.13 403.1,375.55 402.7,375.87 402.3,375.87 401.9,374.78 401.5,375.25 401.1,376.25 400.7,376.25 400.3,376.58 399.9,376.74 399.5,375.4 399.1,374.61 398.7,376 398.3,375.19 397.9,374.77 397.5,376.7 397.1,376.42 396.7,375.22 396.3,374.46 395.9,374.9 395.5,373.99 395.1,376.57 394.7,376.24 394.3,375.89 393.9,374.64 393.5,375.87 393.1,374.96 392.7,374.22 392.3,375.78 391.9,376.76 391.5,374.76 391.1,373.45 390.7,374.98 390.3,376.12 389.9,374.47 389.5,375.95 389.1,374.65 388.7,377.17 388.3,375.9 387.9,375.36 387.5,374.84 387.1,374.84 386.7,374.77 386.3,375.41 385.9,377.06 385.5,376.23 385.1,376.13 384.7,376.15 384.3,374.58 383.9,376.37 383.5,378.89 383.1,379.11 382.7,377.94 382.3,375.37 381.9,375.36 381.5,374.85 381.1,375.59 380.7,374.16 380.3,376.87 379.9,374.84 379.5,376.47 379.1,377.7 378.7,379.25 378.3,378.75 377.9,376.43 377.5,376.43 377.1,374.17 376.7,374.13 376.3,374.7 375.9,373.94 375.5,374.6 375.1,378.3 374.7,377.84 374.3,374.74 373.9,376.11 373.5,374.54 373.1,376.01 372.7,375.44 372.3,373.97 371.9,375.74 371.5,375.76 371.1,374.78 370.7,375.19 370.3,375.91 369.9,375.34 369.5,374.31 369.1,374.13 368.7,373.35 368.3,377.46 367.9,377.46 367.5,375.21 367.1,372.93 366.7,376.55 366.3,374.69 365.9,374.5 365.5,375.46 365.1,373.24 364.7,374.96 364.3,375.49 363.9,375.49 363.5,374.63 363.1,375.37 362.7,374.62 362.3,375.3 361.9,374.8 361.5,376.94 361.1,375.81 360.7,376 360.3,375.86 359.9,377.74 359.5,376.19 359.1,376.19 358.7,375.94 358.3,374.86 357.9,376.08 357.5,373.86 357.1,374.21 356.7,373.78 356.3,373.22 355.9,373.38 355.5,374.55 355.1,375.13 354.7,375.08 354.3,375.72 353.9,375.19 353.5,374.09 353.1,373.86 352.7,375.18 352.3,375.8 351.9,376.19 351.5,374.31 351.1,375.55 350.7,375.87 350.3,375.7 349.9,374.2 349.5,378.41 349.1,376.69 348.7,376.69 348.3,375.21 347.9,375.21 347.5,374.7 347.1,374.01 346.7,375.01 346.3,376.16 345.9,376.35 345.5,374.7 345.1,376.53 344.7,377.29 344.3,377.25 343.9,381.11 343.5,381.6 343.1,386.23 342.7,397.48 342.3,400.6 341.9,389.46 341.5,374.19 341.1,374.5 340.7,373.32 340.3,374.21 339.9,374.45 339.5,375.21 339.1,377.04 338.7,375.52 338.3,379.43 337.9,376.13 337.5,376.29 337.1,377.68 336.7,378.72 336.3,375.08 335.9,375.63 335.5,375.08 335.1,374.48 334.7,374.78 334.3,374.54 333.9,374.44 333.5,373.17 333.1,375.76 332.7,374.66 332.3,376.58 331.9,381.08 331.5,381.08 331.1,375.47 330.7,376.36 330.3,376.36 329.9,377.36 329.5,377.31 329.1,376.5 328.7,376.15 328.3,375.69 327.9,373.76 327.5,377.05 327.1,379.58 326.7,380.92 326.3,378.54 325.9,379.51 325.5,382.15 325.1,382.81 324.7,386.68 324.3,387.26 323.9,390.6 323.5,390.5 323.1,373.23 322.7,375.77 322.3,375.07 321.9,378.37 321.5,378.93 321.1,378.04 320.7,380.57 320.3,383.02 319.9,393.36 319.5,407.26 319.1,417.5 318.7,417.06 318.3,376.54 317.9,376.54 317.5,377.95 317.1,379.61 316.7,375.96 316.3,374.49 315.9,375.76 315.5,374.92 315.1,377.04 314.7,374.22 314.3,374.14 313.9,375.32 313.5,374.57 313.1,375.97 312.7,375 312.3,376.27 311.9,375.57 311.5,375.09 311.1,375.56 310.7,375.62 310.3,375.69 309.9,375.69 309.5,374.12 309.1,375.7 308.7,378.27 308.3,380.3 307.9,375.89 307.5,374.31 307.1,374.27 306.7,375.67 306.3,378.52 305.9,376.01 305.5,376.01 305.1,374.78 304.7,377 304.3,376.41 303.9,376.41 303.5,375.25 303.1,376.34 302.7,374.25 302.3,376.47 301.9,376.93 301.5,380.06 301.1,380.32 300.7,375.21 300.3,373.65 299.9,375.74 299.5,376.53 299.1,375.95 298.7,374.75 298.3,373.38 297.9,374.71 297.5,374.91 297.1,374.23 296.7,375.06 296.3,375.78 295.9,375.06 295.5,373.46 295.1,375.15 294.7,375.15 294.3,374.92 293.9,374.72 293.5,374.19 293.1,375.67 292.7,374.08 292.3,374.08 291.9,374.6 291.5,374.06 291.1,374.99 290.7,373.94 290.3,374.39 289.9,373.19 289.5,375.48 289.1,373.67 288.7,375.26 288.3,375.03 287.9,375.03 287.5,374.79 287.1,375.4 286.7,375.41 286.3,376.82 285.9,377.26 285.5,375.62 285.1,375.82 284.7,375.79 284.3,376.59 283.9,377.07 283.5,378.68 283.1,376.22 282.7,374.73 282.3,374.71 281.9,376.08 281.5,375.95 281.1,373.24 280.7,374.17 280.3,374.75 279.9,374.82 279.5,375.29 279.1,378.55 278.7,374.88 278.3,375.54 277.9,374.45 277.5,375.61 277.1,374.78 276.7,376.76 276.3,375.6 275.9,377.32 275.5,378.16 275.1,378.13 274.7,381.13 274.3,383.5 273.9,388.55 273.5,398.73 273.1,404.9 272.7,404.9 272.3,378.79 271.9,377.07 271.5,374.99 271.1,374.99 270.7,373.49 270.3,374.58 269.9,374.1 269.5,375.82 269.1,375.26 268.7,376.46 268.3,374.57 267.9,374.57 267.5,374.53 267.1,376.03 266.7,376.03 266.3,374.42 265.9,374.71 265.5,375.34 265.1,374.92 264.7,374.34 264.3,376.26 263.9,375.27 263.5,374.82 263.1,375.59 262.7,375.59 262.3,373.92 261.9,376.86 261.5,374.87 261.1,376.23 260.7,375.22 260.3,376.95 259.9,376.95 259.5,379.32 259.1,379.32 258.7,376.05 258.3,376.12 257.9,377.35 257.5,376.49 257.1,377.14 256.7,374.92 256.3,374.92 255.9,376.96 255.5,377.49 255.1,376.63 254.7,374.88 254.3,374.01 253.9,376.59 253.5,376.82 253.1,377.33 252.7,377.85 252.3,377.22 251.9,378.77 251.5,377.6 251.1,378.94 250.7,379.9 250.3,381.65 249.9,383.59 249.5,384.42 249.1,385.37 248.7,389.86 248.3,389.86 247.9,394.82 247.5,399.66 247.1,407.6 246.7,407.7 246.3,383.2 245.9,376.23 245.5,377.62 245.1,376.94 244.7,379.35 244.3,376.55 243.9,378.59 243.5,380.68 243.1,382.03 242.7,384.95 242.3,390.36 241.9,391.98 241.5,396.66 241.1,403.18 240.7,415.12 240.3,424.49 239.9,440.61 239.5,442.8 239.1,419.99 238.7,376.85 238.3,377.95 237.9,379.43 237.5,379.76 237.1,378.41 236.7,375.05 236.3,376.83 235.9,381.32 235.5,377.58 235.1,376.92 234.7,376.77 234.3,375.57 233.9,376.48 233.5,378.24 233.1,377.99 232.7,378.1 232.3,377.98 231.9,377.98 231.5,375.74 231.1,377.19 230.7,376.57 230.3,376.39 229.9,375.54 229.5,376.83 229.1,376.55 228.7,375.69 228.3,375.97 227.9,379.12 227.5,376.01 227.1,379.32 226.7,381.01 226.3,379.74 225.9,379.65 225.5,378.42 225.1,378.66 224.7,378.93 224.3,380.4 223.9,383.19 223.5,389.79 223.1,393.52 222.7,403.89 222.3,413.2 221.9,413.04 221.5,376.77 221.1,376.32 220.7,376.31 220.3,376.39 219.9,376.35 219.5,377.5 219.1,376.79 218.7,379.6 218.3,379.18 217.9,373.98 217.5,375.21 217.1,374.58 216.7,375.39 216.3,374.99 215.9,376.39 215.5,374.59 215.1,374.86 214.7,374.54 214.3,376.83 213.9,375.65 213.5,376.84 213.1,377.28" fill="#0C04F6" stroke="#0C04F6" stroke-width="0.8" stroke-linejoin="round"/>
<polygon points="451.3,374.57 451.7,373.34 452.1,373.64 452.5,374.92 452.9,374.34 453.3,371.31 453.7,373.85 454.1,373.85 454.5,376.28 454.9,375.82 455.3,373.36 455.7,375.24 456.1,374.81 456.5,372.94 456.9,375.97 457.3,372.15 457.7,372.15 458.1,373.68 458.5,372.74 458.9,374.77 459.3,387.86 459.7,383.72 460.1,377.36 460.5,376.67 460.9,375.56 461.3,375.56 461.7,374.09 462.1,374.33 462.5,374.33 462.9,375.44 463.3,373.37 463.7,374.38 464.1,372.7 464.5,374.44 464.9,405.91 465.3,401.19 465.7,394.72 466.1,387.48 466.5,383.53 466.9,379.2 467.3,376.9 467.7,375.37 468.1,376.87 468.5,374.73 468.9,371.54 469.3,372.56 469.7,373.22 470.1,371.55 470.5,373.22 470.9,371.47 471.3,375.09 471.7,381.43 472.1,376.82 472.5,375.19 472.9,375.4 473.3,375.03 473.7,375.29 474.1,372.71 474.5,372.13 474.9,373.51 475.3,372.33 475.7,372.7 476.1,378.13 476.5,372.63 476.9,375.28 477.3,375.9 477.7,376.54 478.1,376.47 478.5,373.65 478.9,374.84 479.3,375.89 479.7,373.08 480.1,372.42 480.5,372.42 480.9,376.87 481.3,382.03 481.7,379.47 482.1,379.47 482.5,375.41 482.9,374.32 483.3,373.7 483.7,374.4 484.1,373.63 484.5,374.63 484.9,380.03 485.3,396.13 485.7,390.57 486.1,385.53 486.5,380.39 486.9,376.86 487.3,374.84 487.7,373.05 488.1,375.69 488.5,377.46 488.9,388.99 489.3,386.23 489.7,380.16 490.1,376.32 490.5,376.9 490.9,374.82 491.3,375.68 491.7,374.79 492.1,374.18 492.5,372.81 492.9,374.6 493.3,373.99 493.7,375.13 494.1,386.31 494.5,382.74 494.9,377.82 495.3,376.69 495.7,375.75 496.1,374.45 496.5,370.84 496.9,371.77 497.3,372.91 497.7,373.83 498.1,377.01 498.5,373.85 498.9,374.39 499.3,374.39 499.7,375.35 500.1,377.96 500.5,379.23 500.9,376.34 501.3,375.23 501.7,373.68 502.1,372.15 502.5,374.29 502.9,372.6 503.3,374.74 503.7,374.03 504.1,374.74 504.5,374.6 504.9,373.18 505.3,374.69 505.7,373.33 506.1,373.98 506.5,375.11 506.9,375.47 507.3,375.58 507.7,434.56 508.1,415.77 508.5,398.68 508.9,395.55 509.3,389.23 509.7,382.03 510.1,380.57 510.5,377.33 510.9,376.79 511.3,374.9 511.7,375.46 512.1,376.64 512.5,373.38 512.9,375.63 513.3,375.9 513.7,373.88 514.1,373.16 514.5,374.02 514.9,376.06 515.3,375.21 515.7,375.09 516.1,373.42 516.5,373.42 516.9,372.09 517.3,372.54 517.7,373.51 518.1,372.31 518.5,372.68 518.9,373.32 519.3,374.73 519.7,385.84 520.1,378.96 520.5,378.96 520.9,378.18 521.3,376.1 521.7,374.24 522.1,373.09 522.5,375.6 522.9,373.58 523.3,370.38 523.7,373.5 524.1,373.34 524.5,374.24 524.9,375.06 525.3,373.89 525.7,375.81 526.1,385.8 526.5,379.99 526.9,379.32 527.3,377.08 527.7,372.78 528.1,373.8 528.5,370.59 528.9,371.74 529.3,416.34 529.7,400.45 530.1,392.78 530.5,382.49 530.9,382.83 531.3,376.21 531.7,376.15 532.1,374.36 532.5,373.8 532.9,372.47 533.3,371 533.7,373.26 534.1,373.88 534.5,373.04 534.9,372.22 535.3,374.23 535.7,373.68 536.1,376.68 536.5,373.84 536.9,373.84 537.3,374.29 537.7,373.84 538.1,374.13 538.5,371.26 538.9,371.12 539.3,373.38 539.7,372.61 540.1,372.82 540.5,374.33 540.9,371.74 541.3,377.76 541.7,394.25 542.1,386.95 542.5,380.54 542.9,378.72 543.3,375.72 543.7,375.65 544.1,375.37 544.5,375.34 544.9,374.3 545.3,374.85 545.7,371.7 546.1,372.97 546.5,373.56 546.9,373.18 547.3,375.1 547.7,373.13 548.1,373.13 548.5,372.35 548.9,370.37 549.3,371.36 549.7,375.48 550.1,374.67 550.5,372.67 550.9,372.67 551.3,375 551.7,378.46 552.1,374.43 552.5,374.31 552.9,373.93 553.3,371.36 553.7,370.84 554.1,372.7 554.5,373.26 554.9,372.79 555.3,371.95 555.7,380.36 556.1,382.16 556.5,379.16 556.9,375.64 557.3,373.91 557.7,373.91 558.1,373.56 558.5,374.17 558.9,374.04 559.3,372.42 559.7,372.69 560.1,371.01 560.5,371.01 560.9,373.14 561.3,373.06 561.7,376.81 562.1,373.69 562.5,374.84 562.9,373.1 563.3,375.65 563.7,392.07 564.1,411.61 564.5,400.63 564.9,390.31 565.3,385.81 565.7,381.22 566.1,379.7 566.5,376.58 566.9,378.23 567.3,374.83 567.7,374.15 568.1,372.41 568.5,374.15 568.9,373.24 569.3,372.82 569.7,373.25 570.1,374.17 570.5,373.24 570.9,373.89 571.3,376.54 571.7,375.32 572.1,375.3 572.5,374.05 572.9,371.8 573.3,371.95 573.7,372.58 574.1,370.99 574.5,372.07 574.9,373.99 575.3,374.34 575.7,377.25 576.1,374.24 576.5,373.72 576.9,385.44 577.3,386.59 577.7,382.05 578.1,381.47 578.5,375 578.9,374.29 579.3,375.33 579.7,372.39 580.1,373.28 580.5,372.49 580.9,373.55 581.3,372.81 581.7,372.32 582.1,372.32 582.5,372.65 582.9,373.85 583.3,372.92 583.7,369.42 584.1,374.59 584.5,374.24 584.9,374.44 585.3,404.21 585.7,393.93 586.1,386.13 586.5,383.55 586.9,380.28 587.3,377.62 587.7,376.28 588.1,373.1 588.5,373.1 588.9,374.43 589.3,372.21 589.7,371.36 590.1,369.98 590.5,373.95 590.9,375.96 591.3,372.29 591.7,372.29 592.1,372.43 592.5,372.43 592.9,373.77 593.3,374.51 593.7,370.38 594.1,372.07 594.5,373.1 594.9,373.22 595.3,373.9 595.7,370.24 596.1,370.24 596.5,373.92 596.9,376.32 597.3,375.53 597.7,375.46 598.1,374.99 598.5,374.77 598.9,374.77 599.3,374.57 599.7,374.31 600.1,373.31 600.5,371.77 600.9,374.58 601.3,370.88 601.7,371.39 602.1,371.66 602.5,371.66 602.9,371.07 603.3,372.98 603.7,366.49 604.1,367 604.5,368.02 604.9,369.62 605.3,370.97 605.7,371.62 606.1,372.59 606.5,371.11 606.9,371.11 607.3,373.58 607.7,373.58 608.1,375.23 608.5,373.46 608.9,373.3 609.3,372.4 609.7,372.4 610.1,375.14 610.5,375.98 610.9,383.25 611.3,377.1 611.7,377.1 612.1,375.83 612.5,373.87 612.9,374.45 613.3,373.87 613.7,374.19 614.1,373.94 614.5,374.04 614.9,374.81 615.3,374.29 615.7,376.61 616.1,372.63 616.5,374.51 616.9,374.33 617.3,372.61 617.7,372.84 618.1,373.01 618.5,372.17 618.9,372.74 619.3,372.06 619.7,374.35 620.1,374.42 620.5,378.71 620.9,376.92 621.3,372.53 621.7,373.97 622.1,374.51 622.5,376.02 622.9,374.24 623.3,371.96 623.7,373.75 624.1,372.18 624.5,372.17 624.9,374.71 625.3,393.47 625.7,415.72 626.1,405.99 626.5,392.63 626.9,387.56 627.3,383 627.7,383 628.1,394.62 628.5,382.95 628.9,379.93 629.3,376.91 629.7,374.98 630.1,375.83 630.5,375.83 630.9,423.4 631.3,406.19 631.7,396.65 632.1,392.12 632.5,383.5 632.9,380.26 633.3,379.31 633.7,378.56 634.1,374.88 634.5,376.6 634.9,373.35 635.3,373.65 635.7,387.47 636.1,391.49 636.5,384.61 636.9,379.86 637.3,377.17 637.7,375.27 638.1,373.54 638.5,371.15 638.9,373.13 639.3,373.13 639.7,372.93 640.1,375.98 640.5,372.39 640.9,371.64 641.3,373.89 641.7,371.82 642.1,373.77 642.5,374.41 642.9,373.99 643.3,373.28 643.7,372.19 644.1,375.01 644.5,374.29 644.9,374.29 645.3,374.93 645.7,375.51 646.1,379.27 646.5,378.96 646.9,376.24 647.3,375.1 647.7,373.05 648.1,374.4 648.5,373.61 648.9,371.63 649.3,372.63 649.7,373.21 650.1,372.98 650.5,371.53 650.9,372.71 651.3,374.4 651.7,372.15 652.1,372.15 652.5,372.25 652.9,373.91 653.3,372.5 653.7,374.12 654.1,375.44 654.5,374.1 654.9,375.39 655.3,385.49 655.7,380.74 656.1,378.87 656.5,374.11 656.9,373.57 657.3,375.06 657.7,379.26 658.1,376.41 658.5,374.93 658.9,371.73 659.3,373.58 659.7,374.3 660.1,376.38 660.5,378.84 660.9,376.13 661.3,373.82 661.7,374.12 662.1,374.02 662.5,372.4 662.9,370.99 663.3,372.69 663.7,373.1 664.1,371.06 664.5,376.17 664.9,373.23 665.3,372.77 665.7,374.95 666.1,373.65 666.5,373.9 666.9,373.76 667.3,372.64 667.7,374.31 668.1,373.71 668.5,374.27 668.9,394.46 669.3,389.95 669.7,382.35 670.1,381.24 670.5,379.24 670.9,375.74 671.3,376.94 671.7,377.39 672.1,375.48 672.5,372.9 672.9,373.79 673.3,375.71 673.7,374.87 674.1,373.7 674.5,371.97 674.9,375.72 675.3,375.88 675.7,373.37 676.1,377.52 676.5,374.66 676.9,374.47 677.3,371.91 677.7,374.02 678.1,373.69 678.5,375.1 678.9,374.14 679.3,372.94 679.7,373.12 680.1,377.69 680.5,376.44 680.9,376.27 681.3,375.94 681.7,374.73 682.1,373.07 682.5,373.68 682.9,373.68 683.3,374.85 683.3,378.11 682.9,380.58 682.5,380.09 682.1,378.89 681.7,379.32 681.3,378.87 680.9,383.92 680.5,380.42 680.1,380.16 679.7,378.55 679.3,378.95 678.9,380.96 678.5,381.64 678.1,381.64 677.7,380.77 677.3,384.2 676.9,382.82 676.5,380.54 676.1,381.26 675.7,380.18 675.3,382.65 674.9,379.08 674.5,378.81 674.1,379.9 673.7,381.83 673.3,381.09 672.9,381.09 672.5,380.95 672.1,380.89 671.7,379.94 671.3,381.92 670.9,383.69 670.5,383.49 670.1,387.01 669.7,392.17 669.3,397.51 668.9,405.2 668.5,402.39 668.1,379.11 667.7,379.11 667.3,379.42 666.9,378.27 666.5,378.27 666.1,378.34 665.7,379.69 665.3,378.07 664.9,380.86 664.5,379.22 664.1,379.51 663.7,380.41 663.3,377.39 662.9,378.5 662.5,381.31 662.1,376.52 661.7,381.41 661.3,383.59 660.9,380.32 660.5,383.54 660.1,383.03 659.7,378.44 659.3,378.52 658.9,379.46 658.5,380.51 658.1,381.71 657.7,383.78 657.3,383.78 656.9,380.77 656.5,380.95 656.1,383.72 655.7,390.04 655.3,392.81 654.9,392.99 654.5,376.47 654.1,381.97 653.7,379.25 653.3,380.02 652.9,380.02 652.5,378.05 652.1,379.42 651.7,379.04 651.3,378.72 650.9,379.14 650.5,377.81 650.1,377.33 649.7,378.8 649.3,379.81 648.9,380.26 648.5,378.81 648.1,380.63 647.7,381.98 647.3,382.34 646.9,382.37 646.5,388.54 646.1,389.05 645.7,382.26 645.3,378.35 644.9,379.04 644.5,379.46 644.1,380.6 643.7,380.6 643.3,379.66 642.9,382.28 642.5,380.63 642.1,380.63 641.7,379.57 641.3,380.52 640.9,379.93 640.5,381.26 640.1,380.42 639.7,380.49 639.3,381.01 638.9,379.99 638.5,379.99 638.1,379.88 637.7,382.75 637.3,383.28 636.9,385.71 636.5,394.33 636.1,401.01 635.7,404.3 635.3,387.47 634.9,379.22 634.5,380.96 634.1,383.06 633.7,383.54 633.3,384.99 632.9,386.74 632.5,395.08 632.1,401.65 631.7,406.19 631.3,423.4 630.9,435.7 630.5,434.9 630.1,380.61 629.7,384.1 629.3,384.09 628.9,389.72 628.5,396.66 628.1,404.3 627.7,404.3 627.3,387.56 626.9,397.39 626.5,405.99 626.1,417.06 625.7,432.32 625.3,435.3 624.9,393.47 624.5,380.36 624.1,379.06 623.7,380.56 623.3,378.53 622.9,381.4 622.5,381.4 622.1,379.7 621.7,379.91 621.3,378.95 620.9,384.02 620.5,384.51 620.1,379.5 619.7,378.9 619.3,380.14 618.9,379.37 618.5,379.32 618.1,379.32 617.7,377.14 617.3,379.36 616.9,381.36 616.5,381.36 616.1,379.71 615.7,382.79 615.3,382.01 614.9,379.28 614.5,378.08 614.1,380.08 613.7,379.17 613.3,378.76 612.9,380 612.5,383.28 612.1,383.85 611.7,383.06 611.3,388.48 610.9,390.6 610.5,388.25 610.1,378.67 609.7,378.67 609.3,378.76 608.9,380.27 608.5,379.02 608.1,381.25 607.7,381.25 607.3,377.69 606.9,379 606.5,376.76 606.1,377.45 605.7,378.24 605.3,377.03 604.9,376.91 604.5,375.78 604.1,373.37 603.7,373.99 603.3,379.6 602.9,377.32 602.5,377.43 602.1,378.66 601.7,379.56 601.3,377.29 600.9,377.78 600.5,379.17 600.1,377.61 599.7,379.95 599.3,381.37 598.9,381.37 598.5,379.92 598.1,380.35 597.7,382.74 597.3,384.06 596.9,382.4 596.5,379.94 596.1,379.54 595.7,378.26 595.3,378.34 594.9,380.36 594.5,380.36 594.1,376.77 593.7,376.71 593.3,376.49 592.9,376.55 592.5,378.36 592.1,379.08 591.7,380.29 591.3,379.63 590.9,380.34 590.5,379.26 590.1,379.09 589.7,379.09 589.3,379.8 588.9,380.5 588.5,378.47 588.1,379.9 587.7,384.62 587.3,387.24 586.9,387.24 586.5,388.66 586.1,397.37 585.7,404.21 585.3,415.21 584.9,413.15 584.5,380.91 584.1,378.84 583.7,379.37 583.3,378.77 582.9,379.1 582.5,377.1 582.1,377.89 581.7,377.11 581.3,378 580.9,380.31 580.5,379.93 580.1,378.65 579.7,381.37 579.3,381.41 578.9,380.95 578.5,383.35 578.1,386.69 577.7,389.53 577.3,394.24 576.9,402.1 576.5,386.88 576.1,379.95 575.7,382.6 575.3,379.06 574.9,378.83 574.5,379.26 574.1,377.5 573.7,378.72 573.3,379.75 572.9,376.55 572.5,379.65 572.1,379.83 571.7,383.9 571.3,384 570.9,380.22 570.5,379.16 570.1,377.28 569.7,378.76 569.3,379.38 568.9,379.21 568.5,380.9 568.1,381.08 567.7,380.01 567.3,380.76 566.9,383.19 566.5,383.19 566.1,384.69 565.7,387.21 565.3,391.88 564.9,402.54 564.5,411.61 564.1,425.38 563.7,427.1 563.3,392.07 562.9,381.89 562.5,381.21 562.1,383.68 561.7,383.68 561.3,380.58 560.9,378.34 560.5,379.56 560.1,380.35 559.7,376.42 559.3,379.57 558.9,377.57 558.5,381.15 558.1,379.67 557.7,381.92 557.3,381.91 556.9,382.02 556.5,386.26 556.1,388.29 555.7,387.52 555.3,380.46 554.9,377.16 554.5,377.44 554.1,379.78 553.7,379.33 553.3,375.63 552.9,377.93 552.5,380.7 552.1,380.7 551.7,381.25 551.3,385.78 550.9,382.17 550.5,380.16 550.1,381.09 549.7,385.3 549.3,384.26 548.9,377.89 548.5,378.12 548.1,378.09 547.7,379.55 547.3,383.26 546.9,378.6 546.5,379.43 546.1,379.94 545.7,378.8 545.3,382.79 544.9,382.79 544.5,379.87 544.1,380.08 543.7,380.44 543.3,381.07 542.9,386.53 542.5,388.96 542.1,396.12 541.7,402.3 541.3,402.3 540.9,378.99 540.5,379.44 540.1,380.72 539.7,378.24 539.3,379.35 538.9,377.92 538.5,379.75 538.1,380.15 537.7,378.65 537.3,379.08 536.9,381.21 536.5,380.96 536.1,380.96 535.7,380.07 535.3,380.03 534.9,379.75 534.5,381.32 534.1,379.15 533.7,378.93 533.3,378.73 532.9,380.42 532.5,381.74 532.1,381.79 531.7,383.99 531.3,386.87 530.9,387.35 530.5,394.51 530.1,400.93 529.7,416.34 529.3,421.9 528.9,418.34 528.5,381.99 528.1,381.99 527.7,381.46 527.3,381.07 526.9,383.59 526.5,388.07 526.1,390.9 525.7,388.55 525.3,381.3 524.9,379.14 524.5,379.76 524.1,379.67 523.7,382.67 523.3,377.9 522.9,380.17 522.5,381.52 522.1,381.33 521.7,380.13 521.3,381.67 520.9,382.58 520.5,383.33 520.1,385.85 519.7,390 519.3,389.58 518.9,377.39 518.5,379.7 518.1,380.48 517.7,378.77 517.3,378.25 516.9,379.16 516.5,380.12 516.1,378.45 515.7,380.3 515.3,379.29 514.9,380.37 514.5,380.6 514.1,380.09 513.7,383.17 513.3,382.33 512.9,382.01 512.5,378.79 512.1,381.53 511.7,380.34 511.3,383.19 510.9,383.19 510.5,383.66 510.1,385.25 509.7,391.02 509.3,398.43 508.9,402.06 508.5,415.77 508.1,434.56 507.7,448.7 507.3,444.32 506.9,383.66 506.5,381.08 506.1,378.64 505.7,379.4 505.3,382.12 504.9,379.02 504.5,381.19 504.1,382.22 503.7,380.57 503.3,379.48 502.9,381.43 502.5,378.37 502.1,379.16 501.7,377.91 501.3,381.69 500.9,381.63 500.5,383.04 500.1,383.81 499.7,380.96 499.3,382.42 498.9,379.54 498.5,378.26 498.1,381.59 497.7,379.63 497.3,379.91 496.9,380.85 496.5,378.59 496.1,378.92 495.7,378.69 495.3,382.52 494.9,384.03 494.5,390.88 494.1,392.7 493.7,390.64 493.3,378.67 492.9,378.44 492.5,381.18 492.1,381.65 491.7,379.75 491.3,379.5 490.9,379.06 490.5,381.6 490.1,383.69 489.7,387.5 489.3,394.64 488.9,397.9 488.5,389.19 488.1,381.99 487.7,382.63 487.3,382.63 486.9,382.85 486.5,386.57 486.1,394.62 485.7,398.36 485.3,406.2 484.9,405.98 484.5,380.03 484.1,381.69 483.7,384.4 483.3,378.09 482.9,380.99 482.5,381.14 482.1,386.53 481.7,385.35 481.3,390.8 480.9,390.9 480.5,379.87 480.1,380.62 479.7,379.72 479.3,379.72 478.9,380.29 478.5,378.98 478.1,386.22 477.7,386.25 477.3,381.54 476.9,378.23 476.5,382.75 476.1,382.53 475.7,381.97 475.3,379.51 474.9,379.01 474.5,380.14 474.1,379.19 473.7,379.49 473.3,379.48 472.9,381.02 472.5,381.28 472.1,385.36 471.7,386.64 471.3,387.4 470.9,381.41 470.5,378.52 470.1,380.82 469.7,380.11 469.3,380.78 468.9,380.4 468.5,381.08 468.1,381.48 467.7,382.26 467.3,385.83 466.9,387.79 466.5,391.4 466.1,395.16 465.7,401.95 465.3,414.08 464.9,418.4 464.5,405.91 464.1,378.22 463.7,378.06 463.3,378.65 462.9,379.76 462.5,379.77 462.1,381.54 461.7,380.2 461.3,381.44 460.9,381.53 460.5,384.88 460.1,384.55 459.7,388.26 459.3,396.2 458.9,394.85 458.5,379.79 458.1,378.77 457.7,381.47 457.3,380.15 456.9,380.26 456.5,376.44 456.1,380.26 455.7,380.16 455.3,381.07 454.9,379.67 454.5,380.46 454.1,379.32 453.7,379.71 453.3,377.93 452.9,378.02 452.5,378.46 452.1,380.41 451.7,378.4 451.3,380.17" fill="#F43C44" stroke="#F43C44" stroke-width="0.8" stroke-linejoin="round"/>
<polyline points="208.7,434.3 208.7,463.7 254.2,463.7" fill="none" stroke="#0C04F6" stroke-width="1.4" stroke-linejoin="round" stroke-linecap="butt" />
<polyline points="446.6,426.1 446.6,455.9 492.6,455.9" fill="none" stroke="#F43C44" stroke-width="1.3" stroke-linejoin="round" stroke-linecap="butt" />
<text x="0" y="0" font-size="12.43" fill="#0C04F6" font-weight="bold" textLength="34.09" lengthAdjust="spacingAndGlyphs" transform="translate(202.8 471.14) rotate(-90)" stroke="#0C04F6" stroke-width="0.25">20 pA</text>
<text x="216.91" y="483.9" font-size="11.74" fill="#0C04F6" font-weight="bold" textLength="15.95" lengthAdjust="spacingAndGlyphs" stroke="#0C04F6" stroke-width="0.25">1 s</text>
<text x="0" y="0" font-size="12.14" fill="#F43C44" font-weight="bold" textLength="33.99" lengthAdjust="spacingAndGlyphs" transform="translate(434.9 457.44) rotate(-90)" stroke="#F43C44" stroke-width="0.25">20 pA</text>
<text x="458.41" y="476.9" font-size="11.3" fill="#F43C44" font-weight="bold" textLength="16.06" lengthAdjust="spacingAndGlyphs" stroke="#F43C44" stroke-width="0.25">1 s</text>
<text x="300.59" y="353.2" font-size="11.45" fill="#0C04F6" font-weight="bold" textLength="36.01" lengthAdjust="spacingAndGlyphs" stroke="#0C04F6" stroke-width="0.25">Control</text>
<text x="539.31" y="352.1" font-size="11.59" fill="#F43C44" font-weight="bold" textLength="23.08" lengthAdjust="spacingAndGlyphs" stroke="#F43C44" stroke-width="0.25">NT-1</text>
<line x1="81.8" y1="528.1" x2="81.8" y2="686" stroke="#111" stroke-width="1.75" />
<line x1="76.8" y1="685.5" x2="318" y2="685.5" stroke="#111" stroke-width="1.75" />
<line x1="76.8" y1="528.8" x2="81.8" y2="528.8" stroke="#111" stroke-width="1.75" />
<text x="66.67" y="532.9" font-size="11.43" fill="#111" font-weight="bold" textLength="8.37" lengthAdjust="spacingAndGlyphs" stroke="#111" stroke-width="0.25">6</text>
<line x1="76.8" y1="581" x2="81.8" y2="581" stroke="#111" stroke-width="1.75" />
<text x="67" y="585.1" font-size="11.59" fill="#111" font-weight="bold" textLength="7.59" lengthAdjust="spacingAndGlyphs" stroke="#111" stroke-width="0.25">4</text>
<line x1="76.8" y1="633" x2="81.8" y2="633" stroke="#111" stroke-width="1.75" />
<text x="66.67" y="637.1" font-size="11.43" fill="#111" font-weight="bold" textLength="8.46" lengthAdjust="spacingAndGlyphs" stroke="#111" stroke-width="0.25">2</text>
<line x1="76.8" y1="685.3" x2="81.8" y2="685.3" stroke="#111" stroke-width="1.75" />
<text x="66.59" y="689.4" font-size="11.43" fill="#111" font-weight="bold" textLength="8.55" lengthAdjust="spacingAndGlyphs" stroke="#111" stroke-width="0.25">0</text>
<line x1="149.1" y1="685.3" x2="149.1" y2="690.3" stroke="#111" stroke-width="1.75" />
<line x1="249.7" y1="685.3" x2="249.7" y2="690.3" stroke="#111" stroke-width="1.75" />
<text x="100.3" y="704.9" font-size="14.21" fill="#111" font-weight="normal" textLength="96.83" lengthAdjust="spacingAndGlyphs" stroke="#111" stroke-width="0.15">CaMKII-Control</text>
<text x="208.01" y="704.8" font-size="14" fill="#111" font-weight="normal" textLength="80.7" lengthAdjust="spacingAndGlyphs" stroke="#111" stroke-width="0.15">CaMKII-NT-1</text>
<text x="0" y="0" font-size="13.1" fill="#111" font-weight="normal" textLength="158.58" lengthAdjust="spacingAndGlyphs" transform="translate(58.3 685) rotate(-90)" stroke="#111" stroke-width="0.15">Frequency of sEPSC (Hz)</text>
<line x1="149.1" y1="522.5" x2="250" y2="522.5" stroke="#111" stroke-width="1.75" />
<text x="188.57" y="521.16" font-size="22.7" fill="#111" font-weight="bold" textLength="20.42" lengthAdjust="spacingAndGlyphs" stroke="#111" stroke-width="0.25">**</text>
<circle cx="119.3" cy="650.5" r="3.75" fill="#0D0DF7"/>
<circle cx="131.4" cy="644.3" r="3.75" fill="#0D0DF7"/>
<circle cx="143.3" cy="649.2" r="3.75" fill="#0D0DF7"/>
<circle cx="155" cy="647.6" r="3.75" fill="#0D0DF7"/>
<circle cx="167.2" cy="650.2" r="3.75" fill="#0D0DF7"/>
<circle cx="179.1" cy="646.4" r="3.75" fill="#0D0DF7"/>
<circle cx="131.4" cy="666.8" r="3.75" fill="#0D0DF7"/>
<circle cx="143.3" cy="663" r="3.75" fill="#0D0DF7"/>
<circle cx="155" cy="666" r="3.75" fill="#0D0DF7"/>
<circle cx="167.2" cy="664.4" r="3.75" fill="#0D0DF7"/>
<line x1="115.8" y1="655.1" x2="183" y2="655.1" stroke="#0D0DF7" stroke-width="1.7" />
<line x1="132.8" y1="652.2" x2="165.8" y2="652.2" stroke="#0D0DF7" stroke-width="1.5" />
<line x1="132.8" y1="657.8" x2="165.8" y2="657.8" stroke="#0D0DF7" stroke-width="1.5" />
<line x1="149.4" y1="652.2" x2="149.4" y2="657.8" stroke="#0D0DF7" stroke-width="1.5" />
<polygon points="242.5,531.1 246.35,538.3 238.65,538.3" fill="#FF1111"/>
<polygon points="257.3,538.4 261.15,545.6 253.45,545.6" fill="#FF1111"/>
<polygon points="249.9,558.6 253.75,565.8 246.05,565.8" fill="#FF1111"/>
<polygon points="249.9,577 253.75,584.2 246.05,584.2" fill="#FF1111"/>
<polygon points="249.9,602 253.75,609.2 246.05,609.2" fill="#FF1111"/>
<polygon points="242.5,614.9 246.35,622.1 238.65,622.1" fill="#FF1111"/>
<polygon points="257.3,614.9 261.15,622.1 253.45,622.1" fill="#FF1111"/>
<polygon points="257.3,630 261.15,637.2 253.45,637.2" fill="#FF1111"/>
<polygon points="242.5,633.8 246.35,641 238.65,641" fill="#FF1111"/>
<polygon points="257.3,641.5 261.15,648.7 253.45,648.7" fill="#FF1111"/>
<polygon points="242.5,642.9 246.35,650.1 238.65,650.1" fill="#FF1111"/>
<polygon points="242.5,651.1 246.35,658.3 238.65,658.3" fill="#FF1111"/>
<polygon points="257.3,654.8 261.15,662 253.45,662" fill="#FF1111"/>
<polygon points="242.5,659.8 246.35,667 238.65,667" fill="#FF1111"/>
<line x1="216.1" y1="613.9" x2="283.3" y2="613.9" stroke="#FF1111" stroke-width="1.7" />
<line x1="233.1" y1="602.8" x2="266.6" y2="602.8" stroke="#FF1111" stroke-width="1.6" />
<line x1="233.1" y1="626" x2="266.6" y2="626" stroke="#FF1111" stroke-width="1.6" />
<line x1="249.7" y1="602.8" x2="249.7" y2="626" stroke="#FF1111" stroke-width="1.6" />
<line x1="415.4" y1="528.1" x2="415.4" y2="685.8" stroke="#111" stroke-width="1.75" />
<line x1="410.2" y1="685.1" x2="650.9" y2="685.1" stroke="#111" stroke-width="1.75" />
<line x1="410.2" y1="528.8" x2="415.4" y2="528.8" stroke="#111" stroke-width="1.75" />
<text x="392.49" y="533.3" font-size="11.57" fill="#111" font-weight="bold" textLength="15.19" lengthAdjust="spacingAndGlyphs" stroke="#111" stroke-width="0.25">50</text>
<line x1="410.2" y1="560.1" x2="415.4" y2="560.1" stroke="#111" stroke-width="1.75" />
<text x="392.7" y="564.6" font-size="11.57" fill="#111" font-weight="bold" textLength="14.97" lengthAdjust="spacingAndGlyphs" stroke="#111" stroke-width="0.25">40</text>
<line x1="410.2" y1="591.1" x2="415.4" y2="591.1" stroke="#111" stroke-width="1.75" />
<text x="392.56" y="595.6" font-size="11.57" fill="#111" font-weight="bold" textLength="15.12" lengthAdjust="spacingAndGlyphs" stroke="#111" stroke-width="0.25">30</text>
<line x1="410.2" y1="622.8" x2="415.4" y2="622.8" stroke="#111" stroke-width="1.75" />
<text x="392.42" y="627.3" font-size="11.57" fill="#111" font-weight="bold" textLength="15.26" lengthAdjust="spacingAndGlyphs" stroke="#111" stroke-width="0.25">20</text>
<line x1="410.2" y1="654.1" x2="415.4" y2="654.1" stroke="#111" stroke-width="1.75" />
<text x="392.06" y="658.6" font-size="11.57" fill="#111" font-weight="bold" textLength="15.64" lengthAdjust="spacingAndGlyphs" stroke="#111" stroke-width="0.25">10</text>
<line x1="410.2" y1="685.1" x2="415.4" y2="685.1" stroke="#111" stroke-width="1.75" />
<text x="400.03" y="689.4" font-size="11.29" fill="#111" font-weight="bold" textLength="7.96" lengthAdjust="spacingAndGlyphs" stroke="#111" stroke-width="0.25">0</text>
<line x1="482.2" y1="685.1" x2="482.2" y2="690.3" stroke="#111" stroke-width="1.75" />
<line x1="582.9" y1="685.1" x2="582.9" y2="690.3" stroke="#111" stroke-width="1.75" />
<text x="433.1" y="705.2" font-size="14.34" fill="#111" font-weight="normal" textLength="97.03" lengthAdjust="spacingAndGlyphs" stroke="#111" stroke-width="0.15">CaMKII-Control</text>
<text x="541.11" y="704.8" font-size="13.71" fill="#111" font-weight="normal" textLength="81.01" lengthAdjust="spacingAndGlyphs" stroke="#111" stroke-width="0.15">CaMKII-NT-1</text>
<text x="0" y="0" font-size="13.24" fill="#111" font-weight="normal" textLength="155.06" lengthAdjust="spacingAndGlyphs" transform="translate(384.7 683.8) rotate(-90)" stroke="#111" stroke-width="0.15">Amplitude of sEPSC (pA)</text>
<line x1="482.4" y1="533.9" x2="582.7" y2="533.9" stroke="#111" stroke-width="1.75" />
<text x="523.85" y="524.64" font-size="16.18" fill="#111" font-weight="normal" textLength="17.03" lengthAdjust="spacingAndGlyphs" stroke="#111" stroke-width="0.15">ns</text>
<circle cx="467.8" cy="610.8" r="3.75" fill="#0D0DF7"/>
<circle cx="482.4" cy="604.6" r="3.75" fill="#0D0DF7"/>
<circle cx="497" cy="606.3" r="3.75" fill="#0D0DF7"/>
<circle cx="482.4" cy="613.1" r="3.75" fill="#0D0DF7"/>
<circle cx="497" cy="616" r="3.75" fill="#0D0DF7"/>
<circle cx="482.4" cy="620.1" r="3.75" fill="#0D0DF7"/>
<circle cx="475.1" cy="635" r="3.75" fill="#0D0DF7"/>
<circle cx="489.7" cy="634.5" r="3.75" fill="#0D0DF7"/>
<circle cx="489.7" cy="642.3" r="3.75" fill="#0D0DF7"/>
<circle cx="475.1" cy="646.7" r="3.75" fill="#0D0DF7"/>
<line x1="449.1" y1="623" x2="515.9" y2="623" stroke="#0D0DF7" stroke-width="1.7" />
<line x1="466" y1="618" x2="499" y2="618" stroke="#0D0DF7" stroke-width="1.5" />
<line x1="466" y1="627.9" x2="499" y2="627.9" stroke="#0D0DF7" stroke-width="1.5" />
<line x1="482.4" y1="618" x2="482.4" y2="627.9" stroke="#0D0DF7" stroke-width="1.5" />
<polygon points="583.1,552.6 586.8,559.8 579.4,559.8" fill="#FF1111"/>
<polygon points="568.3,577.2 572,584.4 564.6,584.4" fill="#FF1111"/>
<polygon points="583.1,581.9 586.8,589.1 579.4,589.1" fill="#FF1111"/>
<polygon points="597.8,588.6 601.5,595.8 594.1,595.8" fill="#FF1111"/>
<polygon points="583.1,593.9 586.8,601.1 579.4,601.1" fill="#FF1111"/>
<polygon points="590.5,604.2 594.2,611.4 586.8,611.4" fill="#FF1111"/>
<polygon points="575.7,608.9 579.4,616.1 572,616.1" fill="#FF1111"/>
<polygon points="568.3,623.6 572,630.8 564.6,630.8" fill="#FF1111"/>
<polygon points="597.8,624.9 601.5,632.1 594.1,632.1" fill="#FF1111"/>
<polygon points="583.1,629.2 586.8,636.4 579.4,636.4" fill="#FF1111"/>
<polygon points="597.8,636.5 601.5,643.7 594.1,643.7" fill="#FF1111"/>
<polygon points="583.1,642.7 586.8,649.9 579.4,649.9" fill="#FF1111"/>
<polygon points="597.8,648.8 601.5,656 594.1,656" fill="#FF1111"/>
<polygon points="568.3,654.1 572,661.3 564.6,661.3" fill="#FF1111"/>
<line x1="549.7" y1="615.3" x2="616.5" y2="615.3" stroke="#FF1111" stroke-width="1.7" />
<line x1="566.5" y1="607.1" x2="599.7" y2="607.1" stroke="#FF1111" stroke-width="1.6" />
<line x1="566.5" y1="622.8" x2="599.7" y2="622.8" stroke="#FF1111" stroke-width="1.6" />
<line x1="583.1" y1="607.1" x2="583.1" y2="622.8" stroke="#FF1111" stroke-width="1.6" />
<line x1="53.9" y1="745" x2="53.9" y2="935.3" stroke="#111" stroke-width="1.75" />
<line x1="48.3" y1="930" x2="331.4" y2="930" stroke="#111" stroke-width="1.75" />
<line x1="48.3" y1="745.5" x2="53.9" y2="745.5" stroke="#111" stroke-width="1.75" />
<text x="22.76" y="749.8" font-size="12.29" fill="#111" font-weight="bold" textLength="23.24" lengthAdjust="spacingAndGlyphs" stroke="#111" stroke-width="0.25">120</text>
<line x1="48.3" y1="776.25" x2="53.9" y2="776.25" stroke="#111" stroke-width="1.75" />
<text x="22.76" y="780.55" font-size="12.29" fill="#111" font-weight="bold" textLength="23.24" lengthAdjust="spacingAndGlyphs" stroke="#111" stroke-width="0.25">100</text>
<line x1="48.3" y1="807" x2="53.9" y2="807" stroke="#111" stroke-width="1.75" />
<text x="30.48" y="811.3" font-size="12.29" fill="#111" font-weight="bold" textLength="15.51" lengthAdjust="spacingAndGlyphs" stroke="#111" stroke-width="0.25">80</text>
<line x1="48.3" y1="837.75" x2="53.9" y2="837.75" stroke="#111" stroke-width="1.75" />
<text x="30.41" y="842.05" font-size="12.29" fill="#111" font-weight="bold" textLength="15.58" lengthAdjust="spacingAndGlyphs" stroke="#111" stroke-width="0.25">60</text>
<line x1="48.3" y1="868.5" x2="53.9" y2="868.5" stroke="#111" stroke-width="1.75" />
<text x="30.69" y="872.8" font-size="12.29" fill="#111" font-weight="bold" textLength="15.29" lengthAdjust="spacingAndGlyphs" stroke="#111" stroke-width="0.25">40</text>
<line x1="48.3" y1="899.25" x2="53.9" y2="899.25" stroke="#111" stroke-width="1.75" />
<text x="30.41" y="903.55" font-size="12.29" fill="#111" font-weight="bold" textLength="15.58" lengthAdjust="spacingAndGlyphs" stroke="#111" stroke-width="0.25">20</text>
<line x1="48.3" y1="930" x2="53.9" y2="930" stroke="#111" stroke-width="1.75" />
<text x="38.57" y="934.3" font-size="12.29" fill="#111" font-weight="bold" textLength="7.38" lengthAdjust="spacingAndGlyphs" stroke="#111" stroke-width="0.25">0</text>
<line x1="53.9" y1="930" x2="53.9" y2="935.3" stroke="#111" stroke-width="1.75" />
<text x="49.69" y="950.7" font-size="12.57" fill="#111" font-weight="bold" textLength="8.43" lengthAdjust="spacingAndGlyphs" stroke="#111" stroke-width="0.25">0</text>
<line x1="100.02" y1="930" x2="100.02" y2="935.3" stroke="#111" stroke-width="1.75" />
<text x="97.26" y="950.7" font-size="12.75" fill="#111" font-weight="bold" textLength="5.21" lengthAdjust="spacingAndGlyphs" stroke="#111" stroke-width="0.25">1</text>
<line x1="146.14" y1="930" x2="146.14" y2="935.3" stroke="#111" stroke-width="1.75" />
<text x="142.01" y="950.7" font-size="12.57" fill="#111" font-weight="bold" textLength="8.34" lengthAdjust="spacingAndGlyphs" stroke="#111" stroke-width="0.25">2</text>
<line x1="192.26" y1="930" x2="192.26" y2="935.3" stroke="#111" stroke-width="1.75" />
<text x="188.3" y="950.7" font-size="12.57" fill="#111" font-weight="bold" textLength="8.09" lengthAdjust="spacingAndGlyphs" stroke="#111" stroke-width="0.25">3</text>
<line x1="238.38" y1="930" x2="238.38" y2="935.3" stroke="#111" stroke-width="1.75" />
<text x="234.58" y="950.7" font-size="12.75" fill="#111" font-weight="bold" textLength="7.48" lengthAdjust="spacingAndGlyphs" stroke="#111" stroke-width="0.25">4</text>
<line x1="284.5" y1="930" x2="284.5" y2="935.3" stroke="#111" stroke-width="1.75" />
<text x="280.47" y="950.7" font-size="12.75" fill="#111" font-weight="bold" textLength="8.01" lengthAdjust="spacingAndGlyphs" stroke="#111" stroke-width="0.25">5</text>
<line x1="330.62" y1="930" x2="330.62" y2="935.3" stroke="#111" stroke-width="1.75" />
<text x="326.5" y="950.7" font-size="12.57" fill="#111" font-weight="bold" textLength="8.26" lengthAdjust="spacingAndGlyphs" stroke="#111" stroke-width="0.25">6</text>
<text x="122.68" y="971.5" font-size="14.21" fill="#111" font-weight="normal" textLength="139.15" lengthAdjust="spacingAndGlyphs" stroke="#111" stroke-width="0.15">Inter-event intervals (s)</text>
<text x="0" y="0" font-size="14.48" fill="#111" font-weight="normal" textLength="160.23" lengthAdjust="spacingAndGlyphs" transform="translate(14.6 916.88) rotate(-90)" stroke="#111" stroke-width="0.15">Cumulative Frequency (%)</text>
<path d="M56,930 C56.05,929.77 55.83,930.47 56.3,928.6 C56.77,926.73 57.85,922.28 58.8,918.8 C59.75,915.32 60.85,911.85 62,907.7 C63.15,903.55 64.4,898.6 65.7,893.9 C67,889.2 68.5,883.88 69.8,879.5 C71.1,875.12 72.22,871.17 73.5,867.6 C74.78,864.03 76.47,860.67 77.5,858.1 C78.53,855.53 79.08,854.03 79.7,852.2 C80.32,850.37 80.47,848.8 81.2,847.1 C81.93,845.4 82.88,843.7 84.1,842 C85.32,840.3 87.4,838.37 88.5,836.9 C89.6,835.43 89.62,835.02 90.7,833.2 C91.78,831.38 93.55,828.07 95,826 C96.45,823.93 97.75,822.63 99.4,820.8 C101.05,818.97 103.53,816.4 104.9,815 C106.27,813.6 105.98,813.82 107.6,812.4 C109.22,810.98 112.08,808.35 114.6,806.5 C117.12,804.65 120.18,802.75 122.7,801.3 C125.22,799.85 127.65,798.72 129.7,797.8 C131.75,796.88 132.43,796.7 135,795.8 C137.57,794.9 140.1,793.78 145.1,792.4 C150.1,791.02 159.15,788.8 165,787.5 C170.85,786.2 174.37,785.47 180.2,784.6 C186.03,783.73 190.87,783.23 200,782.3 C209.13,781.37 223.33,779.82 235,779 C246.67,778.18 259.17,777.72 270,777.4 C280.83,777.08 289.92,777.17 300,777.1 C310.08,777.03 325.42,777.02 330.5,777" fill="none" stroke="#1111F5" stroke-width="1.6"/>
<path d="M55.8,930 C55.85,929.77 55.77,931.08 56.1,928.6 C56.43,926.12 57.28,919.8 57.8,915.1 C58.32,910.4 58.73,905.17 59.2,900.4 C59.67,895.63 60.05,891.12 60.6,886.5 C61.15,881.88 61.8,877.32 62.5,872.7 C63.2,868.08 63.92,863.6 64.8,858.8 C65.68,854 66.7,848.92 67.8,843.9 C68.9,838.88 70.13,832.98 71.4,828.7 C72.67,824.42 73.85,821.5 75.4,818.2 C76.95,814.9 78.85,811.62 80.7,808.9 C82.55,806.18 84.37,804.15 86.5,801.9 C88.63,799.65 90.97,797.35 93.5,795.4 C96.03,793.45 98.77,791.65 101.7,790.2 C104.63,788.75 107.6,787.87 111.1,786.7 C114.6,785.53 118.72,784.22 122.7,783.2 C126.68,782.18 130.45,781.35 135,780.6 C139.55,779.85 145,779.18 150,778.7 C155,778.22 156.67,778.08 165,777.7 C173.33,777.32 185.83,776.72 200,776.4 C214.17,776.08 233.33,775.95 250,775.8 C266.67,775.65 286.58,775.57 300,775.5 C313.42,775.43 325.42,775.42 330.5,775.4" fill="none" stroke="#FF1A1A" stroke-width="1.6"/>
<line x1="207.6" y1="839.3" x2="229.5" y2="839.3" stroke="#1111F5" stroke-width="1.6" />
<line x1="207.6" y1="861.5" x2="229.5" y2="861.5" stroke="#FF1A1A" stroke-width="1.6" />
<text x="232.99" y="842" font-size="13.38" fill="#111" font-weight="normal" textLength="97.44" lengthAdjust="spacingAndGlyphs" stroke="#111" stroke-width="0.15">CaMKII-Control</text>
<text x="232.99" y="858.4" font-size="14" fill="#111" font-weight="normal" textLength="82.63" lengthAdjust="spacingAndGlyphs" stroke="#111" stroke-width="0.15">CaMKII-NT-1</text>
<line x1="394.1" y1="743.9" x2="394.1" y2="934.5" stroke="#111" stroke-width="1.75" />
<line x1="389.2" y1="929.2" x2="672.3" y2="929.2" stroke="#111" stroke-width="1.75" />
<line x1="389.2" y1="744.6" x2="394.1" y2="744.6" stroke="#111" stroke-width="1.75" />
<text x="363.08" y="749" font-size="12.57" fill="#111" font-weight="bold" textLength="22.71" lengthAdjust="spacingAndGlyphs" stroke="#111" stroke-width="0.25">120</text>
<line x1="389.2" y1="775.37" x2="394.1" y2="775.37" stroke="#111" stroke-width="1.75" />
<text x="363.08" y="779.77" font-size="12.57" fill="#111" font-weight="bold" textLength="22.71" lengthAdjust="spacingAndGlyphs" stroke="#111" stroke-width="0.25">100</text>
<line x1="389.2" y1="806.14" x2="394.1" y2="806.14" stroke="#111" stroke-width="1.75" />
<text x="370.8" y="810.54" font-size="12.57" fill="#111" font-weight="bold" textLength="14.97" lengthAdjust="spacingAndGlyphs" stroke="#111" stroke-width="0.25">80</text>
<line x1="389.2" y1="836.9" x2="394.1" y2="836.9" stroke="#111" stroke-width="1.75" />
<text x="370.73" y="841.3" font-size="12.57" fill="#111" font-weight="bold" textLength="15.05" lengthAdjust="spacingAndGlyphs" stroke="#111" stroke-width="0.25">60</text>
<line x1="389.2" y1="867.67" x2="394.1" y2="867.67" stroke="#111" stroke-width="1.75" />
<text x="371" y="872.07" font-size="12.57" fill="#111" font-weight="bold" textLength="14.76" lengthAdjust="spacingAndGlyphs" stroke="#111" stroke-width="0.25">40</text>
<line x1="389.2" y1="898.43" x2="394.1" y2="898.43" stroke="#111" stroke-width="1.75" />
<text x="370.73" y="902.83" font-size="12.57" fill="#111" font-weight="bold" textLength="15.05" lengthAdjust="spacingAndGlyphs" stroke="#111" stroke-width="0.25">20</text>
<line x1="389.2" y1="929.2" x2="394.1" y2="929.2" stroke="#111" stroke-width="1.75" />
<text x="377.94" y="933.6" font-size="12.57" fill="#111" font-weight="bold" textLength="7.84" lengthAdjust="spacingAndGlyphs" stroke="#111" stroke-width="0.25">0</text>
<line x1="394.1" y1="929.2" x2="394.1" y2="934.5" stroke="#111" stroke-width="1.75" />
<text x="390.12" y="949.9" font-size="12.86" fill="#111" font-weight="bold" textLength="8.08" lengthAdjust="spacingAndGlyphs" stroke="#111" stroke-width="0.25">0</text>
<line x1="486.84" y1="929.2" x2="486.84" y2="934.5" stroke="#111" stroke-width="1.75" />
<text x="479.9" y="949.9" font-size="12.86" fill="#111" font-weight="bold" textLength="14.76" lengthAdjust="spacingAndGlyphs" stroke="#111" stroke-width="0.25">50</text>
<line x1="579.57" y1="929.2" x2="579.57" y2="934.5" stroke="#111" stroke-width="1.75" />
<text x="570.18" y="949.9" font-size="12.86" fill="#111" font-weight="bold" textLength="20.15" lengthAdjust="spacingAndGlyphs" stroke="#111" stroke-width="0.25">100</text>
<line x1="672.31" y1="929.2" x2="672.31" y2="934.5" stroke="#111" stroke-width="1.75" />
<text x="662.14" y="949.9" font-size="12.86" fill="#111" font-weight="bold" textLength="21" lengthAdjust="spacingAndGlyphs" stroke="#111" stroke-width="0.25">150</text>
<text x="459.98" y="971.1" font-size="13.66" fill="#111" font-weight="normal" textLength="146.82" lengthAdjust="spacingAndGlyphs" stroke="#111" stroke-width="0.15">sEPSCs Amplitude (pA)</text>
<text x="0" y="0" font-size="14.76" fill="#111" font-weight="normal" textLength="160.73" lengthAdjust="spacingAndGlyphs" transform="translate(355.3 916.28) rotate(-90)" stroke="#111" stroke-width="0.15">Cumulative Frequency (%)</text>
<path d="M405.6,928.5 C406.13,927.97 407.65,926.68 408.8,925.3 C409.95,923.92 411.57,922.97 412.5,920.2 C413.43,917.43 413.47,913.55 414.4,908.7 C415.33,903.85 416.87,896.65 418.1,891.1 C419.33,885.55 420.73,880 421.8,875.4 C422.87,870.8 423.52,868.48 424.5,863.5 C425.48,858.52 426.85,849.67 427.7,845.5 C428.55,841.33 428.95,841.15 429.6,838.5 C430.25,835.85 430.78,832.45 431.6,829.6 C432.42,826.75 433.03,824.72 434.5,821.4 C435.97,818.08 437.97,813.6 440.4,809.7 C442.83,805.8 446.38,801.02 449.1,798 C451.82,794.98 454.27,793.35 456.7,791.6 C459.13,789.85 461.17,788.77 463.7,787.5 C466.23,786.23 469.17,785.08 471.9,784 C474.63,782.92 477.08,781.78 480.1,781 C483.12,780.22 486.18,779.83 490,779.3 C493.82,778.77 498,778.2 503,777.8 C508,777.4 513.92,777.15 520,776.9 C526.08,776.65 530.17,776.52 539.5,776.3 C548.83,776.08 569.92,775.72 576,775.6" fill="none" stroke="#1111F5" stroke-width="1.6"/>
<path d="M401.9,925.7 C402.43,925.02 403.95,923.22 405.1,921.6 C406.25,919.98 407.95,918.32 408.8,916 C409.65,913.68 409.42,911.08 410.2,907.7 C410.98,904.32 412.18,900 413.5,895.7 C414.82,891.4 416.57,886.67 418.1,881.9 C419.63,877.13 421.25,871.72 422.7,867.1 C424.15,862.48 425.5,858.13 426.8,854.2 C428.1,850.27 429.47,846.7 430.5,843.5 C431.53,840.3 431.93,837.9 433,835 C434.07,832.1 435.48,828.95 436.9,826.1 C438.32,823.25 439.75,820.53 441.5,817.9 C443.25,815.27 445.07,813.03 447.4,810.3 C449.73,807.57 452.58,804.32 455.5,801.5 C458.42,798.68 461.97,795.43 464.9,793.4 C467.83,791.37 470.38,790.57 473.1,789.3 C475.82,788.03 478.38,786.92 481.2,785.8 C484.02,784.68 485.7,783.52 490,782.6 C494.3,781.68 501.8,780.92 507,780.3 C512.2,779.68 515.7,779.32 521.2,778.9 C526.7,778.48 533.92,778.12 540,777.8 C546.08,777.48 551.03,777.23 557.7,777 C564.37,776.77 570.87,776.57 580,776.4 C589.13,776.23 598.08,776.13 612.5,776 C626.92,775.87 657.5,775.67 666.5,775.6" fill="none" stroke="#FF1A1A" stroke-width="1.6"/>
<line x1="538.2" y1="838.9" x2="560.2" y2="838.9" stroke="#1111F5" stroke-width="1.6" />
<line x1="538.2" y1="861.2" x2="560.2" y2="861.2" stroke="#FF1A1A" stroke-width="1.6" />
<text x="564" y="841.8" font-size="13.24" fill="#111" font-weight="normal" textLength="97.13" lengthAdjust="spacingAndGlyphs" stroke="#111" stroke-width="0.15">CaMKII-Control</text>
<text x="563.99" y="857.7" font-size="14" fill="#111" font-weight="normal" textLength="82.74" lengthAdjust="spacingAndGlyphs" stroke="#111" stroke-width="0.15">CaMKII-NT-1</text>
</svg></body></html>
